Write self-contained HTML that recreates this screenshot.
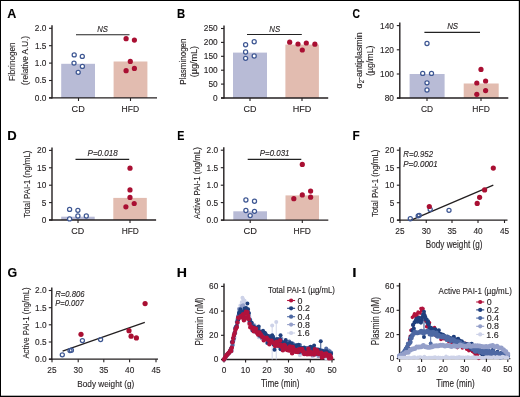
<!DOCTYPE html>
<html><head><meta charset="utf-8"><style>
html,body{margin:0;padding:0;background:#fff;}
svg{display:block;}
text{font-family:"Liberation Sans", sans-serif;}
svg{will-change:transform;}
</style></head><body>
<svg width="520" height="397" viewBox="0 0 520 397">
<rect width="520" height="397" fill="#fff"/>
<text transform="translate(7.29,17.50) scale(1.0193,1)" font-size="12.30" font-weight="bold" font-style="normal" fill="#000" stroke="#000" stroke-width="0.12">A</text>
<rect x="61.2" y="63.8" width="33.80" height="34.20" fill="#b8bbd6"/>
<rect x="113.6" y="61.5" width="33.80" height="36.50" fill="#e2bcb0"/>
<line x1="52" y1="25.3" x2="52" y2="98.5" stroke="#231f20" stroke-width="1.4" />
<line x1="49" y1="28.3" x2="52" y2="28.3" stroke="#231f20" stroke-width="1.1" />
<text transform="translate(34.87,31.21) scale(1.0000,1)" font-size="8.30" font-weight="normal" font-style="normal" fill="#231f20" stroke="#231f20" stroke-width="0.12">2.0</text>
<line x1="49" y1="45.7" x2="52" y2="45.7" stroke="#231f20" stroke-width="1.1" />
<text transform="translate(34.89,48.61) scale(1.0000,1)" font-size="8.30" font-weight="normal" font-style="normal" fill="#231f20" stroke="#231f20" stroke-width="0.12">1.5</text>
<line x1="49" y1="63.1" x2="52" y2="63.1" stroke="#231f20" stroke-width="1.1" />
<text transform="translate(34.87,66.00) scale(1.0000,1)" font-size="8.30" font-weight="normal" font-style="normal" fill="#231f20" stroke="#231f20" stroke-width="0.12">1.0</text>
<line x1="49" y1="80.5" x2="52" y2="80.5" stroke="#231f20" stroke-width="1.1" />
<text transform="translate(34.90,83.41) scale(1.0000,1)" font-size="8.30" font-weight="normal" font-style="normal" fill="#231f20" stroke="#231f20" stroke-width="0.12">0.5</text>
<line x1="49" y1="97.9" x2="52" y2="97.9" stroke="#231f20" stroke-width="1.1" />
<text transform="translate(34.87,100.81) scale(1.0000,1)" font-size="8.30" font-weight="normal" font-style="normal" fill="#231f20" stroke="#231f20" stroke-width="0.12">0.0</text>
<line x1="49" y1="97.9" x2="157" y2="97.9" stroke="#231f20" stroke-width="1.3" />
<line x1="78.5" y1="98" x2="78.5" y2="101" stroke="#231f20" stroke-width="1.1" />
<line x1="130.5" y1="98" x2="130.5" y2="101" stroke="#231f20" stroke-width="1.1" />
<circle cx="74.2" cy="54.9" r="2.05" fill="white" stroke="#3e5793" stroke-width="1.25"/>
<circle cx="82.3" cy="56.4" r="2.05" fill="white" stroke="#3e5793" stroke-width="1.25"/>
<circle cx="74" cy="63.1" r="2.05" fill="white" stroke="#3e5793" stroke-width="1.25"/>
<circle cx="82.4" cy="66.4" r="2.05" fill="white" stroke="#3e5793" stroke-width="1.25"/>
<circle cx="78.2" cy="72.3" r="2.05" fill="white" stroke="#3e5793" stroke-width="1.25"/>
<circle cx="126.1" cy="38.7" r="2.6" fill="#a90f32"/>
<circle cx="134.4" cy="40.1" r="2.6" fill="#a90f32"/>
<circle cx="130.3" cy="61.4" r="2.6" fill="#a90f32"/>
<circle cx="134.4" cy="68.4" r="2.6" fill="#a90f32"/>
<circle cx="126.1" cy="70.7" r="2.6" fill="#a90f32"/>
<line x1="76" y1="34.7" x2="129.5" y2="34.7" stroke="#222" stroke-width="1.15" />
<text transform="translate(97.27,31.50) scale(0.9299,1)" font-size="8.30" font-weight="normal" font-style="italic" fill="#231f20" stroke="#231f20" stroke-width="0.12">NS</text>
<text transform="translate(15.30,80.97) rotate(-90) scale(0.8781,1)" font-size="9.30" fill="#231f20" stroke="#231f20" stroke-width="0.12">Fibrinogen</text>
<text transform="translate(28.00,85.01) rotate(-90) scale(0.8714,1)" font-size="9.30" fill="#231f20" stroke="#231f20" stroke-width="0.12">(relative A.U.)</text>
<text transform="translate(71.54,111.80) scale(0.9922,1)" font-size="9.20" font-weight="normal" font-style="normal" fill="#231f20" stroke="#231f20" stroke-width="0.12">CD</text>
<text transform="translate(121.59,111.80) scale(0.9317,1)" font-size="9.20" font-weight="normal" font-style="normal" fill="#231f20" stroke="#231f20" stroke-width="0.12">HFD</text>
<text transform="translate(177.04,17.50) scale(0.9196,1)" font-size="12.30" font-weight="bold" font-style="normal" fill="#000" stroke="#000" stroke-width="0.12">B</text>
<rect x="233" y="52.6" width="34.00" height="45.40" fill="#b8bbd6"/>
<rect x="285.4" y="44.6" width="33.50" height="53.40" fill="#e2bcb0"/>
<line x1="224" y1="25.5" x2="224" y2="98.6" stroke="#231f20" stroke-width="1.4" />
<line x1="221" y1="28.5" x2="224" y2="28.5" stroke="#231f20" stroke-width="1.1" />
<text transform="translate(203.77,31.41) scale(1.0000,1)" font-size="8.30" font-weight="normal" font-style="normal" fill="#231f20" stroke="#231f20" stroke-width="0.12">250</text>
<line x1="221" y1="42.4" x2="224" y2="42.4" stroke="#231f20" stroke-width="1.1" />
<text transform="translate(203.77,45.30) scale(1.0000,1)" font-size="8.30" font-weight="normal" font-style="normal" fill="#231f20" stroke="#231f20" stroke-width="0.12">200</text>
<line x1="221" y1="56.3" x2="224" y2="56.3" stroke="#231f20" stroke-width="1.1" />
<text transform="translate(203.77,59.20) scale(1.0000,1)" font-size="8.30" font-weight="normal" font-style="normal" fill="#231f20" stroke="#231f20" stroke-width="0.12">150</text>
<line x1="221" y1="70.2" x2="224" y2="70.2" stroke="#231f20" stroke-width="1.1" />
<text transform="translate(203.77,73.11) scale(1.0000,1)" font-size="8.30" font-weight="normal" font-style="normal" fill="#231f20" stroke="#231f20" stroke-width="0.12">100</text>
<line x1="221" y1="84.1" x2="224" y2="84.1" stroke="#231f20" stroke-width="1.1" />
<text transform="translate(208.40,87.00) scale(1.0000,1)" font-size="8.30" font-weight="normal" font-style="normal" fill="#231f20" stroke="#231f20" stroke-width="0.12">50</text>
<line x1="221" y1="98" x2="224" y2="98" stroke="#231f20" stroke-width="1.1" />
<text transform="translate(213.00,100.91) scale(1.0000,1)" font-size="8.30" font-weight="normal" font-style="normal" fill="#231f20" stroke="#231f20" stroke-width="0.12">0</text>
<line x1="221" y1="98" x2="328.2" y2="98" stroke="#231f20" stroke-width="1.3" />
<line x1="250" y1="98" x2="250" y2="101" stroke="#231f20" stroke-width="1.1" />
<line x1="302" y1="98" x2="302" y2="101" stroke="#231f20" stroke-width="1.1" />
<circle cx="245.6" cy="44.7" r="2.05" fill="white" stroke="#3e5793" stroke-width="1.25"/>
<circle cx="254.2" cy="41.7" r="2.05" fill="white" stroke="#3e5793" stroke-width="1.25"/>
<circle cx="245.6" cy="52" r="2.05" fill="white" stroke="#3e5793" stroke-width="1.25"/>
<circle cx="254.2" cy="56" r="2.05" fill="white" stroke="#3e5793" stroke-width="1.25"/>
<circle cx="245.6" cy="58.3" r="2.05" fill="white" stroke="#3e5793" stroke-width="1.25"/>
<circle cx="289.7" cy="42.2" r="2.6" fill="#a90f32"/>
<circle cx="298" cy="44" r="2.6" fill="#a90f32"/>
<circle cx="306.3" cy="43" r="2.6" fill="#a90f32"/>
<circle cx="314.9" cy="44.2" r="2.6" fill="#a90f32"/>
<circle cx="302.3" cy="50" r="2.6" fill="#a90f32"/>
<line x1="247" y1="34.5" x2="301.8" y2="34.5" stroke="#222" stroke-width="1.15" />
<text transform="translate(269.27,31.60) scale(0.9167,1)" font-size="8.50" font-weight="normal" font-style="italic" fill="#231f20" stroke="#231f20" stroke-width="0.12">NS</text>
<text transform="translate(186.00,84.66) rotate(-90) scale(0.8587,1)" font-size="9.30" fill="#231f20" stroke="#231f20" stroke-width="0.12">Plasminogen</text>
<text transform="translate(197.00,77.16) rotate(-90) scale(0.9715,1)" font-size="9.30" fill="#231f20" stroke="#231f20" stroke-width="0.12">(µg/mL)</text>
<text transform="translate(243.45,111.80) scale(0.9760,1)" font-size="9.20" font-weight="normal" font-style="normal" fill="#231f20" stroke="#231f20" stroke-width="0.12">CD</text>
<text transform="translate(292.75,111.80) scale(0.9881,1)" font-size="9.20" font-weight="normal" font-style="normal" fill="#231f20" stroke="#231f20" stroke-width="0.12">HFD</text>
<text transform="translate(352.48,17.50) scale(0.8440,1)" font-size="12.30" font-weight="bold" font-style="normal" fill="#000" stroke="#000" stroke-width="0.12">C</text>
<rect x="409.6" y="74" width="35.00" height="24.00" fill="#b8bbd6"/>
<rect x="463.7" y="83.5" width="35.00" height="14.50" fill="#e2bcb0"/>
<line x1="399.8" y1="22.6" x2="399.8" y2="98.6" stroke="#231f20" stroke-width="1.4" />
<line x1="396.8" y1="25.6" x2="399.8" y2="25.6" stroke="#231f20" stroke-width="1.1" />
<text transform="translate(380.07,28.51) scale(1.0000,1)" font-size="8.30" font-weight="normal" font-style="normal" fill="#231f20" stroke="#231f20" stroke-width="0.12">140</text>
<line x1="396.8" y1="49.8" x2="399.8" y2="49.8" stroke="#231f20" stroke-width="1.1" />
<text transform="translate(380.07,52.70) scale(1.0000,1)" font-size="8.30" font-weight="normal" font-style="normal" fill="#231f20" stroke="#231f20" stroke-width="0.12">120</text>
<line x1="396.8" y1="74" x2="399.8" y2="74" stroke="#231f20" stroke-width="1.1" />
<text transform="translate(380.07,76.91) scale(1.0000,1)" font-size="8.30" font-weight="normal" font-style="normal" fill="#231f20" stroke="#231f20" stroke-width="0.12">100</text>
<line x1="396.8" y1="98.2" x2="399.8" y2="98.2" stroke="#231f20" stroke-width="1.1" />
<text transform="translate(384.70,101.11) scale(1.0000,1)" font-size="8.30" font-weight="normal" font-style="normal" fill="#231f20" stroke="#231f20" stroke-width="0.12">80</text>
<line x1="397" y1="98" x2="508.3" y2="98" stroke="#231f20" stroke-width="1.3" />
<line x1="427" y1="98" x2="427" y2="101" stroke="#231f20" stroke-width="1.1" />
<line x1="481" y1="98" x2="481" y2="101" stroke="#231f20" stroke-width="1.1" />
<circle cx="427" cy="43.5" r="2.05" fill="white" stroke="#3e5793" stroke-width="1.25"/>
<circle cx="422.7" cy="73.4" r="2.05" fill="white" stroke="#3e5793" stroke-width="1.25"/>
<circle cx="431.5" cy="73.4" r="2.05" fill="white" stroke="#3e5793" stroke-width="1.25"/>
<circle cx="427" cy="82.8" r="2.05" fill="white" stroke="#3e5793" stroke-width="1.25"/>
<circle cx="427" cy="90" r="2.05" fill="white" stroke="#3e5793" stroke-width="1.25"/>
<circle cx="481" cy="69.4" r="2.6" fill="#a90f32"/>
<circle cx="476.8" cy="83" r="2.6" fill="#a90f32"/>
<circle cx="485.6" cy="81" r="2.6" fill="#a90f32"/>
<circle cx="485.6" cy="90.6" r="2.6" fill="#a90f32"/>
<circle cx="476.8" cy="94.3" r="2.6" fill="#a90f32"/>
<line x1="424.4" y1="32.3" x2="480" y2="32.3" stroke="#222" stroke-width="1.15" />
<text transform="translate(447.16,29.30) scale(0.9255,1)" font-size="8.50" font-weight="normal" font-style="italic" fill="#231f20" stroke="#231f20" stroke-width="0.12">NS</text>
<text transform="translate(361.80,88.38) rotate(-90) scale(0.9497,1)" font-size="9.30" fill="#231f20" stroke="#231f20" stroke-width="0.12">α<tspan font-size="6.32" dy="2">2</tspan><tspan dy="-2">-antiplasmin</tspan></text>
<text transform="translate(373.30,76.05) rotate(-90) scale(0.9490,1)" font-size="9.30" fill="#231f20" stroke="#231f20" stroke-width="0.12">(µg/mL)</text>
<text transform="translate(420.98,111.80) scale(0.9115,1)" font-size="9.20" font-weight="normal" font-style="normal" fill="#231f20" stroke="#231f20" stroke-width="0.12">CD</text>
<text transform="translate(472.30,111.80) scale(0.9260,1)" font-size="9.20" font-weight="normal" font-style="normal" fill="#231f20" stroke="#231f20" stroke-width="0.12">HFD</text>
<text transform="translate(7.22,139.90) scale(1.0619,1)" font-size="12.30" font-weight="bold" font-style="normal" fill="#000" stroke="#000" stroke-width="0.12">D</text>
<rect x="61.2" y="216.7" width="33.50" height="3.30" fill="#b8bbd6"/>
<rect x="113.3" y="197.9" width="33.50" height="22.10" fill="#e2bcb0"/>
<line x1="52" y1="147.4" x2="52" y2="220.6" stroke="#231f20" stroke-width="1.4" />
<line x1="49" y1="150.4" x2="52" y2="150.4" stroke="#231f20" stroke-width="1.1" />
<text transform="translate(37.10,153.31) scale(1.0000,1)" font-size="8.30" font-weight="normal" font-style="normal" fill="#231f20" stroke="#231f20" stroke-width="0.12">20</text>
<line x1="49" y1="167.8" x2="52" y2="167.8" stroke="#231f20" stroke-width="1.1" />
<text transform="translate(37.12,170.71) scale(1.0000,1)" font-size="8.30" font-weight="normal" font-style="normal" fill="#231f20" stroke="#231f20" stroke-width="0.12">15</text>
<line x1="49" y1="185.2" x2="52" y2="185.2" stroke="#231f20" stroke-width="1.1" />
<text transform="translate(37.10,188.10) scale(1.0000,1)" font-size="8.30" font-weight="normal" font-style="normal" fill="#231f20" stroke="#231f20" stroke-width="0.12">10</text>
<line x1="49" y1="202.6" x2="52" y2="202.6" stroke="#231f20" stroke-width="1.1" />
<text transform="translate(41.73,205.50) scale(1.0000,1)" font-size="8.30" font-weight="normal" font-style="normal" fill="#231f20" stroke="#231f20" stroke-width="0.12">5</text>
<line x1="49" y1="220" x2="52" y2="220" stroke="#231f20" stroke-width="1.1" />
<text transform="translate(41.70,222.91) scale(1.0000,1)" font-size="8.30" font-weight="normal" font-style="normal" fill="#231f20" stroke="#231f20" stroke-width="0.12">0</text>
<line x1="49" y1="220" x2="156.1" y2="220" stroke="#231f20" stroke-width="1.3" />
<line x1="78" y1="220" x2="78" y2="223" stroke="#231f20" stroke-width="1.1" />
<line x1="130" y1="220" x2="130" y2="223" stroke="#231f20" stroke-width="1.1" />
<circle cx="69.6" cy="209.4" r="2.05" fill="white" stroke="#3e5793" stroke-width="1.25"/>
<circle cx="77.9" cy="210.3" r="2.05" fill="white" stroke="#3e5793" stroke-width="1.25"/>
<circle cx="69.6" cy="218.9" r="2.05" fill="white" stroke="#3e5793" stroke-width="1.25"/>
<circle cx="77.9" cy="216" r="2.05" fill="white" stroke="#3e5793" stroke-width="1.25"/>
<circle cx="86.3" cy="216" r="2.05" fill="white" stroke="#3e5793" stroke-width="1.25"/>
<circle cx="130" cy="168.2" r="2.6" fill="#a90f32"/>
<circle cx="130" cy="189.9" r="2.6" fill="#a90f32"/>
<circle cx="130" cy="197.4" r="2.6" fill="#a90f32"/>
<circle cx="125.9" cy="206.8" r="2.6" fill="#a90f32"/>
<circle cx="134.2" cy="203.5" r="2.6" fill="#a90f32"/>
<line x1="75.5" y1="159.3" x2="129.2" y2="159.3" stroke="#222" stroke-width="1.15" />
<text transform="translate(87.56,156.30) scale(0.9140,1)" font-size="8.80" font-weight="normal" font-style="italic" fill="#231f20" stroke="#231f20" stroke-width="0.12">P=0.018</text>
<text transform="translate(30.10,217.68) rotate(-90) scale(0.8190,1)" font-size="9.60" fill="#231f20" stroke="#231f20" stroke-width="0.12">Total PAI-1 (ng/mL)</text>
<text transform="translate(71.35,233.70) scale(0.9760,1)" font-size="9.20" font-weight="normal" font-style="normal" fill="#231f20" stroke="#231f20" stroke-width="0.12">CD</text>
<text transform="translate(121.71,233.70) scale(0.9091,1)" font-size="9.20" font-weight="normal" font-style="normal" fill="#231f20" stroke="#231f20" stroke-width="0.12">HFD</text>
<text transform="translate(177.18,139.90) scale(0.8711,1)" font-size="12.30" font-weight="bold" font-style="normal" fill="#000" stroke="#000" stroke-width="0.12">E</text>
<rect x="233.3" y="211.3" width="33.70" height="8.70" fill="#b8bbd6"/>
<rect x="285.5" y="195.4" width="33.50" height="24.60" fill="#e2bcb0"/>
<line x1="223.8" y1="147.2" x2="223.8" y2="220.6" stroke="#231f20" stroke-width="1.4" />
<line x1="220.8" y1="150.2" x2="223.8" y2="150.2" stroke="#231f20" stroke-width="1.1" />
<text transform="translate(206.57,153.10) scale(1.0000,1)" font-size="8.30" font-weight="normal" font-style="normal" fill="#231f20" stroke="#231f20" stroke-width="0.12">2.0</text>
<line x1="220.8" y1="167.7" x2="223.8" y2="167.7" stroke="#231f20" stroke-width="1.1" />
<text transform="translate(206.59,170.60) scale(1.0000,1)" font-size="8.30" font-weight="normal" font-style="normal" fill="#231f20" stroke="#231f20" stroke-width="0.12">1.5</text>
<line x1="220.8" y1="185.2" x2="223.8" y2="185.2" stroke="#231f20" stroke-width="1.1" />
<text transform="translate(206.57,188.10) scale(1.0000,1)" font-size="8.30" font-weight="normal" font-style="normal" fill="#231f20" stroke="#231f20" stroke-width="0.12">1.0</text>
<line x1="220.8" y1="202.6" x2="223.8" y2="202.6" stroke="#231f20" stroke-width="1.1" />
<text transform="translate(206.60,205.50) scale(1.0000,1)" font-size="8.30" font-weight="normal" font-style="normal" fill="#231f20" stroke="#231f20" stroke-width="0.12">0.5</text>
<line x1="220.8" y1="220.1" x2="223.8" y2="220.1" stroke="#231f20" stroke-width="1.1" />
<text transform="translate(206.57,223.00) scale(1.0000,1)" font-size="8.30" font-weight="normal" font-style="normal" fill="#231f20" stroke="#231f20" stroke-width="0.12">0.0</text>
<line x1="221" y1="220.1" x2="328.3" y2="220.1" stroke="#231f20" stroke-width="1.3" />
<line x1="250.2" y1="220" x2="250.2" y2="223" stroke="#231f20" stroke-width="1.1" />
<line x1="302.3" y1="220" x2="302.3" y2="223" stroke="#231f20" stroke-width="1.1" />
<circle cx="245.9" cy="200" r="2.05" fill="white" stroke="#3e5793" stroke-width="1.25"/>
<circle cx="254.5" cy="201.2" r="2.05" fill="white" stroke="#3e5793" stroke-width="1.25"/>
<circle cx="245.9" cy="210.5" r="2.05" fill="white" stroke="#3e5793" stroke-width="1.25"/>
<circle cx="254.5" cy="211.3" r="2.05" fill="white" stroke="#3e5793" stroke-width="1.25"/>
<circle cx="250.2" cy="215.6" r="2.05" fill="white" stroke="#3e5793" stroke-width="1.25"/>
<circle cx="302.3" cy="164.4" r="2.6" fill="#a90f32"/>
<circle cx="310.6" cy="191.1" r="2.6" fill="#a90f32"/>
<circle cx="302.3" cy="194.9" r="2.6" fill="#a90f32"/>
<circle cx="293.8" cy="198.7" r="2.6" fill="#a90f32"/>
<circle cx="310.6" cy="197.2" r="2.6" fill="#a90f32"/>
<line x1="247.7" y1="159.3" x2="301.3" y2="159.3" stroke="#222" stroke-width="1.15" />
<text transform="translate(259.76,156.30) scale(0.8991,1)" font-size="8.80" font-weight="normal" font-style="italic" fill="#231f20" stroke="#231f20" stroke-width="0.12">P=0.031</text>
<text transform="translate(199.80,219.12) rotate(-90) scale(0.8207,1)" font-size="9.60" fill="#231f20" stroke="#231f20" stroke-width="0.12">Active PAI-1 (ng/mL)</text>
<text transform="translate(243.43,233.70) scale(1.0164,1)" font-size="9.20" font-weight="normal" font-style="normal" fill="#231f20" stroke="#231f20" stroke-width="0.12">CD</text>
<text transform="translate(293.60,233.70) scale(0.9204,1)" font-size="9.20" font-weight="normal" font-style="normal" fill="#231f20" stroke="#231f20" stroke-width="0.12">HFD</text>
<text transform="translate(352.50,139.90) scale(0.9612,1)" font-size="12.30" font-weight="bold" font-style="normal" fill="#000" stroke="#000" stroke-width="0.12">F</text>
<line x1="399.85" y1="147.2" x2="399.85" y2="220.6" stroke="#231f20" stroke-width="1.4" />
<line x1="396.85" y1="150.2" x2="399.85" y2="150.2" stroke="#231f20" stroke-width="1.1" />
<text transform="translate(385.10,153.10) scale(1.0000,1)" font-size="8.30" font-weight="normal" font-style="normal" fill="#231f20" stroke="#231f20" stroke-width="0.12">20</text>
<line x1="396.85" y1="167.7" x2="399.85" y2="167.7" stroke="#231f20" stroke-width="1.1" />
<text transform="translate(385.12,170.60) scale(1.0000,1)" font-size="8.30" font-weight="normal" font-style="normal" fill="#231f20" stroke="#231f20" stroke-width="0.12">15</text>
<line x1="396.85" y1="185.2" x2="399.85" y2="185.2" stroke="#231f20" stroke-width="1.1" />
<text transform="translate(385.10,188.10) scale(1.0000,1)" font-size="8.30" font-weight="normal" font-style="normal" fill="#231f20" stroke="#231f20" stroke-width="0.12">10</text>
<line x1="396.85" y1="202.7" x2="399.85" y2="202.7" stroke="#231f20" stroke-width="1.1" />
<text transform="translate(389.73,205.60) scale(1.0000,1)" font-size="8.30" font-weight="normal" font-style="normal" fill="#231f20" stroke="#231f20" stroke-width="0.12">5</text>
<line x1="396.85" y1="220.2" x2="399.85" y2="220.2" stroke="#231f20" stroke-width="1.1" />
<text transform="translate(389.70,223.10) scale(1.0000,1)" font-size="8.30" font-weight="normal" font-style="normal" fill="#231f20" stroke="#231f20" stroke-width="0.12">0</text>
<line x1="397" y1="220.2" x2="507.5" y2="220.2" stroke="#231f20" stroke-width="1.3" />
<line x1="400" y1="220" x2="400" y2="223" stroke="#231f20" stroke-width="1.1" />
<text transform="translate(395.35,234.21) scale(1.0000,1)" font-size="8.30" font-weight="normal" font-style="normal" fill="#231f20" stroke="#231f20" stroke-width="0.12">25</text>
<line x1="426.25" y1="220" x2="426.25" y2="223" stroke="#231f20" stroke-width="1.1" />
<text transform="translate(421.64,234.21) scale(1.0000,1)" font-size="8.30" font-weight="normal" font-style="normal" fill="#231f20" stroke="#231f20" stroke-width="0.12">30</text>
<line x1="452" y1="220" x2="452" y2="223" stroke="#231f20" stroke-width="1.1" />
<text transform="translate(447.40,234.21) scale(1.0000,1)" font-size="8.30" font-weight="normal" font-style="normal" fill="#231f20" stroke="#231f20" stroke-width="0.12">35</text>
<line x1="478" y1="220" x2="478" y2="223" stroke="#231f20" stroke-width="1.1" />
<text transform="translate(473.46,234.21) scale(1.0000,1)" font-size="8.30" font-weight="normal" font-style="normal" fill="#231f20" stroke="#231f20" stroke-width="0.12">40</text>
<line x1="504.5" y1="220" x2="504.5" y2="223" stroke="#231f20" stroke-width="1.1" />
<text transform="translate(499.97,234.21) scale(1.0000,1)" font-size="8.30" font-weight="normal" font-style="normal" fill="#231f20" stroke="#231f20" stroke-width="0.12">45</text>
<text transform="translate(403.26,156.90) scale(0.9111,1)" font-size="8.60" font-weight="normal" font-style="italic" fill="#231f20" stroke="#231f20" stroke-width="0.12">R=0.952</text>
<text transform="translate(403.26,166.90) scale(0.9313,1)" font-size="8.60" font-weight="normal" font-style="italic" fill="#231f20" stroke="#231f20" stroke-width="0.12">P=0.0001</text>
<line x1="411.2" y1="220.2" x2="493.3" y2="185.2" stroke="#231f20" stroke-width="1.3" />
<circle cx="410.3" cy="218.7" r="2.05" fill="none" stroke="#3e5793" stroke-width="1.25"/>
<circle cx="418.2" cy="215.8" r="2.05" fill="none" stroke="#3e5793" stroke-width="1.25"/>
<circle cx="419.2" cy="215.3" r="2.05" fill="none" stroke="#3e5793" stroke-width="1.25"/>
<circle cx="430.2" cy="209.4" r="2.05" fill="none" stroke="#3e5793" stroke-width="1.25"/>
<circle cx="449" cy="210.3" r="2.05" fill="none" stroke="#3e5793" stroke-width="1.25"/>
<circle cx="429.3" cy="206.5" r="2.6" fill="#a90f32"/>
<circle cx="477.2" cy="203.4" r="2.6" fill="#a90f32"/>
<circle cx="479.6" cy="197.3" r="2.6" fill="#a90f32"/>
<circle cx="484.6" cy="189.9" r="2.6" fill="#a90f32"/>
<circle cx="493.3" cy="168.1" r="2.6" fill="#a90f32"/>
<text transform="translate(425.83,247.60) scale(0.8156,1)" font-size="10.00" font-weight="normal" font-style="normal" fill="#231f20" stroke="#231f20" stroke-width="0.12">Body weight (g)</text>
<text transform="translate(378.00,216.98) rotate(-90) scale(0.8227,1)" font-size="9.60" fill="#231f20" stroke="#231f20" stroke-width="0.12">Total PAI-1 (ng/mL)</text>
<text transform="translate(7.40,276.80) scale(1.0117,1)" font-size="12.30" font-weight="bold" font-style="normal" fill="#000" stroke="#000" stroke-width="0.12">G</text>
<line x1="51.8" y1="287.5" x2="51.8" y2="359.8" stroke="#231f20" stroke-width="1.4" />
<line x1="48.8" y1="290.5" x2="51.8" y2="290.5" stroke="#231f20" stroke-width="1.1" />
<text transform="translate(35.07,293.40) scale(1.0000,1)" font-size="8.30" font-weight="normal" font-style="normal" fill="#231f20" stroke="#231f20" stroke-width="0.12">2.0</text>
<line x1="48.8" y1="307.7" x2="51.8" y2="307.7" stroke="#231f20" stroke-width="1.1" />
<text transform="translate(35.09,310.60) scale(1.0000,1)" font-size="8.30" font-weight="normal" font-style="normal" fill="#231f20" stroke="#231f20" stroke-width="0.12">1.5</text>
<line x1="48.8" y1="324.8" x2="51.8" y2="324.8" stroke="#231f20" stroke-width="1.1" />
<text transform="translate(35.07,327.70) scale(1.0000,1)" font-size="8.30" font-weight="normal" font-style="normal" fill="#231f20" stroke="#231f20" stroke-width="0.12">1.0</text>
<line x1="48.8" y1="342" x2="51.8" y2="342" stroke="#231f20" stroke-width="1.1" />
<text transform="translate(35.09,344.90) scale(1.0000,1)" font-size="8.30" font-weight="normal" font-style="normal" fill="#231f20" stroke="#231f20" stroke-width="0.12">0.5</text>
<line x1="48.8" y1="359.2" x2="51.8" y2="359.2" stroke="#231f20" stroke-width="1.1" />
<text transform="translate(35.07,362.10) scale(1.0000,1)" font-size="8.30" font-weight="normal" font-style="normal" fill="#231f20" stroke="#231f20" stroke-width="0.12">0.0</text>
<line x1="49" y1="359.2" x2="158" y2="359.2" stroke="#231f20" stroke-width="1.3" />
<line x1="52" y1="359.2" x2="52" y2="362.2" stroke="#231f20" stroke-width="1.1" />
<text transform="translate(47.35,373.40) scale(1.0000,1)" font-size="8.30" font-weight="normal" font-style="normal" fill="#231f20" stroke="#231f20" stroke-width="0.12">25</text>
<line x1="78.2" y1="359.2" x2="78.2" y2="362.2" stroke="#231f20" stroke-width="1.1" />
<text transform="translate(73.59,373.40) scale(1.0000,1)" font-size="8.30" font-weight="normal" font-style="normal" fill="#231f20" stroke="#231f20" stroke-width="0.12">30</text>
<line x1="103.8" y1="359.2" x2="103.8" y2="362.2" stroke="#231f20" stroke-width="1.1" />
<text transform="translate(99.20,373.40) scale(1.0000,1)" font-size="8.30" font-weight="normal" font-style="normal" fill="#231f20" stroke="#231f20" stroke-width="0.12">35</text>
<line x1="129.6" y1="359.2" x2="129.6" y2="362.2" stroke="#231f20" stroke-width="1.1" />
<text transform="translate(125.06,373.40) scale(1.0000,1)" font-size="8.30" font-weight="normal" font-style="normal" fill="#231f20" stroke="#231f20" stroke-width="0.12">40</text>
<line x1="156" y1="359.2" x2="156" y2="362.2" stroke="#231f20" stroke-width="1.1" />
<text transform="translate(151.47,373.40) scale(1.0000,1)" font-size="8.30" font-weight="normal" font-style="normal" fill="#231f20" stroke="#231f20" stroke-width="0.12">45</text>
<text transform="translate(55.17,296.90) scale(0.8988,1)" font-size="8.60" font-weight="normal" font-style="italic" fill="#231f20" stroke="#231f20" stroke-width="0.12">R=0.806</text>
<text transform="translate(55.17,306.20) scale(0.8825,1)" font-size="8.60" font-weight="normal" font-style="italic" fill="#231f20" stroke="#231f20" stroke-width="0.12">P=0.007</text>
<line x1="62.6" y1="351.2" x2="144.8" y2="322.4" stroke="#231f20" stroke-width="1.3" />
<circle cx="62.3" cy="354.8" r="2.05" fill="none" stroke="#3e5793" stroke-width="1.25"/>
<circle cx="70" cy="350.6" r="2.05" fill="none" stroke="#3e5793" stroke-width="1.25"/>
<circle cx="71.4" cy="350.2" r="2.05" fill="none" stroke="#3e5793" stroke-width="1.25"/>
<circle cx="82.4" cy="340.6" r="2.05" fill="none" stroke="#3e5793" stroke-width="1.25"/>
<circle cx="100.6" cy="339.6" r="2.05" fill="none" stroke="#3e5793" stroke-width="1.25"/>
<circle cx="81" cy="334.3" r="2.6" fill="#a90f32"/>
<circle cx="129" cy="330.7" r="2.6" fill="#a90f32"/>
<circle cx="131.1" cy="336.2" r="2.6" fill="#a90f32"/>
<circle cx="136.4" cy="337.9" r="2.6" fill="#a90f32"/>
<circle cx="145.1" cy="303.6" r="2.6" fill="#a90f32"/>
<text transform="translate(77.32,387.00) scale(0.8229,1)" font-size="10.00" font-weight="normal" font-style="normal" fill="#231f20" stroke="#231f20" stroke-width="0.12">Body weight (g)</text>
<text transform="translate(28.60,358.62) rotate(-90) scale(0.8127,1)" font-size="9.60" fill="#231f20" stroke="#231f20" stroke-width="0.12">Active PAI-1 (ng/mL)</text>
<text transform="translate(176.85,276.80) scale(1.1486,1)" font-size="12.30" font-weight="bold" font-style="normal" fill="#000" stroke="#000" stroke-width="0.12">H</text>
<line x1="224" y1="283.4" x2="224" y2="360.1" stroke="#231f20" stroke-width="1.4" />
<line x1="221" y1="286.4" x2="224" y2="286.4" stroke="#231f20" stroke-width="1.1" />
<text transform="translate(209.10,289.30) scale(1.0000,1)" font-size="8.30" font-weight="normal" font-style="normal" fill="#231f20" stroke="#231f20" stroke-width="0.12">60</text>
<line x1="221" y1="311.1" x2="224" y2="311.1" stroke="#231f20" stroke-width="1.1" />
<text transform="translate(209.10,314.00) scale(1.0000,1)" font-size="8.30" font-weight="normal" font-style="normal" fill="#231f20" stroke="#231f20" stroke-width="0.12">40</text>
<line x1="221" y1="335.3" x2="224" y2="335.3" stroke="#231f20" stroke-width="1.1" />
<text transform="translate(209.10,338.20) scale(1.0000,1)" font-size="8.30" font-weight="normal" font-style="normal" fill="#231f20" stroke="#231f20" stroke-width="0.12">20</text>
<line x1="221" y1="359.5" x2="224" y2="359.5" stroke="#231f20" stroke-width="1.1" />
<text transform="translate(213.70,362.40) scale(1.0000,1)" font-size="8.30" font-weight="normal" font-style="normal" fill="#231f20" stroke="#231f20" stroke-width="0.12">0</text>
<line x1="221" y1="359.5" x2="334.6" y2="359.5" stroke="#231f20" stroke-width="1.3" />
<line x1="224" y1="359.5" x2="224" y2="362.5" stroke="#231f20" stroke-width="1.1" />
<text transform="translate(221.69,372.70) scale(1.0000,1)" font-size="8.30" font-weight="normal" font-style="normal" fill="#231f20" stroke="#231f20" stroke-width="0.12">0</text>
<line x1="245.6" y1="359.5" x2="245.6" y2="362.5" stroke="#231f20" stroke-width="1.1" />
<text transform="translate(240.84,372.70) scale(1.0000,1)" font-size="8.30" font-weight="normal" font-style="normal" fill="#231f20" stroke="#231f20" stroke-width="0.12">10</text>
<line x1="267" y1="359.5" x2="267" y2="362.5" stroke="#231f20" stroke-width="1.1" />
<text transform="translate(262.34,372.70) scale(1.0000,1)" font-size="8.30" font-weight="normal" font-style="normal" fill="#231f20" stroke="#231f20" stroke-width="0.12">20</text>
<line x1="288.5" y1="359.5" x2="288.5" y2="362.5" stroke="#231f20" stroke-width="1.1" />
<text transform="translate(283.89,372.70) scale(1.0000,1)" font-size="8.30" font-weight="normal" font-style="normal" fill="#231f20" stroke="#231f20" stroke-width="0.12">30</text>
<line x1="310.3" y1="359.5" x2="310.3" y2="362.5" stroke="#231f20" stroke-width="1.1" />
<text transform="translate(305.76,372.70) scale(1.0000,1)" font-size="8.30" font-weight="normal" font-style="normal" fill="#231f20" stroke="#231f20" stroke-width="0.12">40</text>
<line x1="332" y1="359.5" x2="332" y2="362.5" stroke="#231f20" stroke-width="1.1" />
<text transform="translate(327.38,372.70) scale(1.0000,1)" font-size="8.30" font-weight="normal" font-style="normal" fill="#231f20" stroke="#231f20" stroke-width="0.12">50</text>
<line x1="272.15999999999997" y1="325.62" x2="272.15999999999997" y2="359.5" stroke="#cdd2e8" stroke-width="0.9" />
<line x1="276.245" y1="321.99" x2="276.245" y2="359.5" stroke="#cdd2e8" stroke-width="0.9" />
<path d="M222.00,359.50a2.0,2.0 0 1,0 4.0,0a2.0,2.0 0 1,0 -4.0,0 M222.71,358.27a2.0,2.0 0 1,0 4.0,0a2.0,2.0 0 1,0 -4.0,0 M223.42,357.04a2.0,2.0 0 1,0 4.0,0a2.0,2.0 0 1,0 -4.0,0 M224.13,355.81a2.0,2.0 0 1,0 4.0,0a2.0,2.0 0 1,0 -4.0,0 M224.84,354.94a2.0,2.0 0 1,0 4.0,0a2.0,2.0 0 1,0 -4.0,0 M225.55,354.18a2.0,2.0 0 1,0 4.0,0a2.0,2.0 0 1,0 -4.0,0 M226.26,353.43a2.0,2.0 0 1,0 4.0,0a2.0,2.0 0 1,0 -4.0,0 M226.97,352.67a2.0,2.0 0 1,0 4.0,0a2.0,2.0 0 1,0 -4.0,0 M227.68,351.75a2.0,2.0 0 1,0 4.0,0a2.0,2.0 0 1,0 -4.0,0 M228.39,350.59a2.0,2.0 0 1,0 4.0,0a2.0,2.0 0 1,0 -4.0,0 M229.09,351.42a2.0,2.0 0 1,0 4.0,0a2.0,2.0 0 1,0 -4.0,0 M229.80,349.98a2.0,2.0 0 1,0 4.0,0a2.0,2.0 0 1,0 -4.0,0 M230.51,343.25a2.0,2.0 0 1,0 4.0,0a2.0,2.0 0 1,0 -4.0,0 M231.22,344.62a2.0,2.0 0 1,0 4.0,0a2.0,2.0 0 1,0 -4.0,0 M231.93,337.27a2.0,2.0 0 1,0 4.0,0a2.0,2.0 0 1,0 -4.0,0 M232.64,337.14a2.0,2.0 0 1,0 4.0,0a2.0,2.0 0 1,0 -4.0,0 M233.35,328.40a2.0,2.0 0 1,0 4.0,0a2.0,2.0 0 1,0 -4.0,0 M234.06,326.97a2.0,2.0 0 1,0 4.0,0a2.0,2.0 0 1,0 -4.0,0 M234.77,321.87a2.0,2.0 0 1,0 4.0,0a2.0,2.0 0 1,0 -4.0,0 M235.48,321.60a2.0,2.0 0 1,0 4.0,0a2.0,2.0 0 1,0 -4.0,0 M236.19,315.75a2.0,2.0 0 1,0 4.0,0a2.0,2.0 0 1,0 -4.0,0 M236.90,310.52a2.0,2.0 0 1,0 4.0,0a2.0,2.0 0 1,0 -4.0,0 M237.61,308.67a2.0,2.0 0 1,0 4.0,0a2.0,2.0 0 1,0 -4.0,0 M238.32,305.58a2.0,2.0 0 1,0 4.0,0a2.0,2.0 0 1,0 -4.0,0 M239.03,306.36a2.0,2.0 0 1,0 4.0,0a2.0,2.0 0 1,0 -4.0,0 M239.74,302.28a2.0,2.0 0 1,0 4.0,0a2.0,2.0 0 1,0 -4.0,0 M240.45,297.65a2.0,2.0 0 1,0 4.0,0a2.0,2.0 0 1,0 -4.0,0 M241.16,299.28a2.0,2.0 0 1,0 4.0,0a2.0,2.0 0 1,0 -4.0,0 M241.87,302.57a2.0,2.0 0 1,0 4.0,0a2.0,2.0 0 1,0 -4.0,0 M242.58,300.64a2.0,2.0 0 1,0 4.0,0a2.0,2.0 0 1,0 -4.0,0 M243.28,306.65a2.0,2.0 0 1,0 4.0,0a2.0,2.0 0 1,0 -4.0,0 M243.99,310.13a2.0,2.0 0 1,0 4.0,0a2.0,2.0 0 1,0 -4.0,0 M244.70,311.27a2.0,2.0 0 1,0 4.0,0a2.0,2.0 0 1,0 -4.0,0 M245.41,314.82a2.0,2.0 0 1,0 4.0,0a2.0,2.0 0 1,0 -4.0,0 M246.12,316.98a2.0,2.0 0 1,0 4.0,0a2.0,2.0 0 1,0 -4.0,0 M246.83,319.24a2.0,2.0 0 1,0 4.0,0a2.0,2.0 0 1,0 -4.0,0 M247.54,317.07a2.0,2.0 0 1,0 4.0,0a2.0,2.0 0 1,0 -4.0,0 M248.25,322.33a2.0,2.0 0 1,0 4.0,0a2.0,2.0 0 1,0 -4.0,0 M248.96,323.94a2.0,2.0 0 1,0 4.0,0a2.0,2.0 0 1,0 -4.0,0 M249.67,324.95a2.0,2.0 0 1,0 4.0,0a2.0,2.0 0 1,0 -4.0,0 M250.38,323.82a2.0,2.0 0 1,0 4.0,0a2.0,2.0 0 1,0 -4.0,0 M251.09,328.28a2.0,2.0 0 1,0 4.0,0a2.0,2.0 0 1,0 -4.0,0 M251.80,329.62a2.0,2.0 0 1,0 4.0,0a2.0,2.0 0 1,0 -4.0,0 M252.51,325.04a2.0,2.0 0 1,0 4.0,0a2.0,2.0 0 1,0 -4.0,0 M253.22,332.37a2.0,2.0 0 1,0 4.0,0a2.0,2.0 0 1,0 -4.0,0 M253.93,331.18a2.0,2.0 0 1,0 4.0,0a2.0,2.0 0 1,0 -4.0,0 M254.64,330.10a2.0,2.0 0 1,0 4.0,0a2.0,2.0 0 1,0 -4.0,0 M255.35,328.02a2.0,2.0 0 1,0 4.0,0a2.0,2.0 0 1,0 -4.0,0 M256.06,334.17a2.0,2.0 0 1,0 4.0,0a2.0,2.0 0 1,0 -4.0,0 M256.77,337.23a2.0,2.0 0 1,0 4.0,0a2.0,2.0 0 1,0 -4.0,0 M257.48,332.47a2.0,2.0 0 1,0 4.0,0a2.0,2.0 0 1,0 -4.0,0 M258.18,334.94a2.0,2.0 0 1,0 4.0,0a2.0,2.0 0 1,0 -4.0,0 M258.89,335.17a2.0,2.0 0 1,0 4.0,0a2.0,2.0 0 1,0 -4.0,0 M259.60,334.20a2.0,2.0 0 1,0 4.0,0a2.0,2.0 0 1,0 -4.0,0 M260.31,335.07a2.0,2.0 0 1,0 4.0,0a2.0,2.0 0 1,0 -4.0,0 M261.02,335.42a2.0,2.0 0 1,0 4.0,0a2.0,2.0 0 1,0 -4.0,0 M261.73,337.11a2.0,2.0 0 1,0 4.0,0a2.0,2.0 0 1,0 -4.0,0 M262.44,334.66a2.0,2.0 0 1,0 4.0,0a2.0,2.0 0 1,0 -4.0,0 M263.15,334.76a2.0,2.0 0 1,0 4.0,0a2.0,2.0 0 1,0 -4.0,0 M263.86,337.72a2.0,2.0 0 1,0 4.0,0a2.0,2.0 0 1,0 -4.0,0 M264.57,339.01a2.0,2.0 0 1,0 4.0,0a2.0,2.0 0 1,0 -4.0,0 M265.28,337.47a2.0,2.0 0 1,0 4.0,0a2.0,2.0 0 1,0 -4.0,0 M265.99,338.37a2.0,2.0 0 1,0 4.0,0a2.0,2.0 0 1,0 -4.0,0 M266.70,341.40a2.0,2.0 0 1,0 4.0,0a2.0,2.0 0 1,0 -4.0,0 M267.41,340.89a2.0,2.0 0 1,0 4.0,0a2.0,2.0 0 1,0 -4.0,0 M268.12,338.80a2.0,2.0 0 1,0 4.0,0a2.0,2.0 0 1,0 -4.0,0 M268.83,341.20a2.0,2.0 0 1,0 4.0,0a2.0,2.0 0 1,0 -4.0,0 M269.54,341.99a2.0,2.0 0 1,0 4.0,0a2.0,2.0 0 1,0 -4.0,0 M270.25,341.32a2.0,2.0 0 1,0 4.0,0a2.0,2.0 0 1,0 -4.0,0 M270.96,341.99a2.0,2.0 0 1,0 4.0,0a2.0,2.0 0 1,0 -4.0,0 M271.66,342.19a2.0,2.0 0 1,0 4.0,0a2.0,2.0 0 1,0 -4.0,0 M272.37,345.70a2.0,2.0 0 1,0 4.0,0a2.0,2.0 0 1,0 -4.0,0 M273.08,339.72a2.0,2.0 0 1,0 4.0,0a2.0,2.0 0 1,0 -4.0,0 M273.79,342.59a2.0,2.0 0 1,0 4.0,0a2.0,2.0 0 1,0 -4.0,0 M274.50,344.67a2.0,2.0 0 1,0 4.0,0a2.0,2.0 0 1,0 -4.0,0 M275.21,341.77a2.0,2.0 0 1,0 4.0,0a2.0,2.0 0 1,0 -4.0,0 M275.92,343.16a2.0,2.0 0 1,0 4.0,0a2.0,2.0 0 1,0 -4.0,0 M276.63,343.90a2.0,2.0 0 1,0 4.0,0a2.0,2.0 0 1,0 -4.0,0 M277.34,342.40a2.0,2.0 0 1,0 4.0,0a2.0,2.0 0 1,0 -4.0,0 M278.05,340.60a2.0,2.0 0 1,0 4.0,0a2.0,2.0 0 1,0 -4.0,0 M278.76,343.74a2.0,2.0 0 1,0 4.0,0a2.0,2.0 0 1,0 -4.0,0 M279.47,342.24a2.0,2.0 0 1,0 4.0,0a2.0,2.0 0 1,0 -4.0,0 M280.18,341.52a2.0,2.0 0 1,0 4.0,0a2.0,2.0 0 1,0 -4.0,0 M280.89,347.16a2.0,2.0 0 1,0 4.0,0a2.0,2.0 0 1,0 -4.0,0 M281.60,346.56a2.0,2.0 0 1,0 4.0,0a2.0,2.0 0 1,0 -4.0,0 M282.31,344.61a2.0,2.0 0 1,0 4.0,0a2.0,2.0 0 1,0 -4.0,0 M283.02,349.07a2.0,2.0 0 1,0 4.0,0a2.0,2.0 0 1,0 -4.0,0 M283.73,346.88a2.0,2.0 0 1,0 4.0,0a2.0,2.0 0 1,0 -4.0,0 M284.44,344.48a2.0,2.0 0 1,0 4.0,0a2.0,2.0 0 1,0 -4.0,0 M285.15,345.16a2.0,2.0 0 1,0 4.0,0a2.0,2.0 0 1,0 -4.0,0 M285.85,346.19a2.0,2.0 0 1,0 4.0,0a2.0,2.0 0 1,0 -4.0,0 M286.56,350.63a2.0,2.0 0 1,0 4.0,0a2.0,2.0 0 1,0 -4.0,0 M287.27,343.59a2.0,2.0 0 1,0 4.0,0a2.0,2.0 0 1,0 -4.0,0 M287.98,346.80a2.0,2.0 0 1,0 4.0,0a2.0,2.0 0 1,0 -4.0,0 M288.69,346.59a2.0,2.0 0 1,0 4.0,0a2.0,2.0 0 1,0 -4.0,0 M289.40,347.22a2.0,2.0 0 1,0 4.0,0a2.0,2.0 0 1,0 -4.0,0 M290.11,351.12a2.0,2.0 0 1,0 4.0,0a2.0,2.0 0 1,0 -4.0,0 M290.82,350.80a2.0,2.0 0 1,0 4.0,0a2.0,2.0 0 1,0 -4.0,0 M291.53,350.59a2.0,2.0 0 1,0 4.0,0a2.0,2.0 0 1,0 -4.0,0 M292.24,345.44a2.0,2.0 0 1,0 4.0,0a2.0,2.0 0 1,0 -4.0,0 M292.95,350.26a2.0,2.0 0 1,0 4.0,0a2.0,2.0 0 1,0 -4.0,0 M293.66,349.42a2.0,2.0 0 1,0 4.0,0a2.0,2.0 0 1,0 -4.0,0 M294.37,349.60a2.0,2.0 0 1,0 4.0,0a2.0,2.0 0 1,0 -4.0,0 M295.08,348.36a2.0,2.0 0 1,0 4.0,0a2.0,2.0 0 1,0 -4.0,0 M295.79,348.64a2.0,2.0 0 1,0 4.0,0a2.0,2.0 0 1,0 -4.0,0 M296.50,349.20a2.0,2.0 0 1,0 4.0,0a2.0,2.0 0 1,0 -4.0,0 M297.21,351.95a2.0,2.0 0 1,0 4.0,0a2.0,2.0 0 1,0 -4.0,0 M297.92,355.29a2.0,2.0 0 1,0 4.0,0a2.0,2.0 0 1,0 -4.0,0 M298.63,349.85a2.0,2.0 0 1,0 4.0,0a2.0,2.0 0 1,0 -4.0,0 M299.34,349.84a2.0,2.0 0 1,0 4.0,0a2.0,2.0 0 1,0 -4.0,0 M300.04,348.36a2.0,2.0 0 1,0 4.0,0a2.0,2.0 0 1,0 -4.0,0 M300.75,350.78a2.0,2.0 0 1,0 4.0,0a2.0,2.0 0 1,0 -4.0,0 M301.46,351.80a2.0,2.0 0 1,0 4.0,0a2.0,2.0 0 1,0 -4.0,0 M302.17,350.23a2.0,2.0 0 1,0 4.0,0a2.0,2.0 0 1,0 -4.0,0 M302.88,353.72a2.0,2.0 0 1,0 4.0,0a2.0,2.0 0 1,0 -4.0,0 M303.59,353.01a2.0,2.0 0 1,0 4.0,0a2.0,2.0 0 1,0 -4.0,0 M304.30,353.11a2.0,2.0 0 1,0 4.0,0a2.0,2.0 0 1,0 -4.0,0 M305.01,351.08a2.0,2.0 0 1,0 4.0,0a2.0,2.0 0 1,0 -4.0,0 M305.72,348.18a2.0,2.0 0 1,0 4.0,0a2.0,2.0 0 1,0 -4.0,0 M306.43,350.59a2.0,2.0 0 1,0 4.0,0a2.0,2.0 0 1,0 -4.0,0 M307.14,350.11a2.0,2.0 0 1,0 4.0,0a2.0,2.0 0 1,0 -4.0,0 M307.85,351.80a2.0,2.0 0 1,0 4.0,0a2.0,2.0 0 1,0 -4.0,0 M308.56,351.86a2.0,2.0 0 1,0 4.0,0a2.0,2.0 0 1,0 -4.0,0 M309.27,353.22a2.0,2.0 0 1,0 4.0,0a2.0,2.0 0 1,0 -4.0,0 M309.98,353.05a2.0,2.0 0 1,0 4.0,0a2.0,2.0 0 1,0 -4.0,0 M310.69,356.81a2.0,2.0 0 1,0 4.0,0a2.0,2.0 0 1,0 -4.0,0 M311.40,354.85a2.0,2.0 0 1,0 4.0,0a2.0,2.0 0 1,0 -4.0,0 M312.11,355.11a2.0,2.0 0 1,0 4.0,0a2.0,2.0 0 1,0 -4.0,0 M312.82,351.64a2.0,2.0 0 1,0 4.0,0a2.0,2.0 0 1,0 -4.0,0 M313.53,352.05a2.0,2.0 0 1,0 4.0,0a2.0,2.0 0 1,0 -4.0,0 M314.23,351.36a2.0,2.0 0 1,0 4.0,0a2.0,2.0 0 1,0 -4.0,0 M314.94,350.78a2.0,2.0 0 1,0 4.0,0a2.0,2.0 0 1,0 -4.0,0 M315.65,354.05a2.0,2.0 0 1,0 4.0,0a2.0,2.0 0 1,0 -4.0,0 M316.36,351.86a2.0,2.0 0 1,0 4.0,0a2.0,2.0 0 1,0 -4.0,0 M317.07,350.46a2.0,2.0 0 1,0 4.0,0a2.0,2.0 0 1,0 -4.0,0 M317.78,353.91a2.0,2.0 0 1,0 4.0,0a2.0,2.0 0 1,0 -4.0,0 M318.49,352.17a2.0,2.0 0 1,0 4.0,0a2.0,2.0 0 1,0 -4.0,0 M319.20,354.41a2.0,2.0 0 1,0 4.0,0a2.0,2.0 0 1,0 -4.0,0 M319.91,356.98a2.0,2.0 0 1,0 4.0,0a2.0,2.0 0 1,0 -4.0,0 M320.62,354.17a2.0,2.0 0 1,0 4.0,0a2.0,2.0 0 1,0 -4.0,0 M321.33,355.88a2.0,2.0 0 1,0 4.0,0a2.0,2.0 0 1,0 -4.0,0 M322.04,354.43a2.0,2.0 0 1,0 4.0,0a2.0,2.0 0 1,0 -4.0,0 M322.75,355.51a2.0,2.0 0 1,0 4.0,0a2.0,2.0 0 1,0 -4.0,0 M323.46,354.31a2.0,2.0 0 1,0 4.0,0a2.0,2.0 0 1,0 -4.0,0 M324.17,358.59a2.0,2.0 0 1,0 4.0,0a2.0,2.0 0 1,0 -4.0,0 M324.88,351.56a2.0,2.0 0 1,0 4.0,0a2.0,2.0 0 1,0 -4.0,0 M325.59,352.91a2.0,2.0 0 1,0 4.0,0a2.0,2.0 0 1,0 -4.0,0 M326.30,355.92a2.0,2.0 0 1,0 4.0,0a2.0,2.0 0 1,0 -4.0,0 M327.01,356.99a2.0,2.0 0 1,0 4.0,0a2.0,2.0 0 1,0 -4.0,0 M327.72,355.56a2.0,2.0 0 1,0 4.0,0a2.0,2.0 0 1,0 -4.0,0 M328.42,354.54a2.0,2.0 0 1,0 4.0,0a2.0,2.0 0 1,0 -4.0,0 M329.13,355.09a2.0,2.0 0 1,0 4.0,0a2.0,2.0 0 1,0 -4.0,0" fill="#cdd2e8"/>
<circle cx="272.15999999999997" cy="325.62" r="2" fill="#cdd2e8"/><circle cx="276.245" cy="321.99" r="2" fill="#cdd2e8"/>
<path d="M222.00,359.50a2.0,2.0 0 1,0 4.0,0a2.0,2.0 0 1,0 -4.0,0 M222.71,358.27a2.0,2.0 0 1,0 4.0,0a2.0,2.0 0 1,0 -4.0,0 M223.42,357.04a2.0,2.0 0 1,0 4.0,0a2.0,2.0 0 1,0 -4.0,0 M224.13,355.81a2.0,2.0 0 1,0 4.0,0a2.0,2.0 0 1,0 -4.0,0 M224.84,354.94a2.0,2.0 0 1,0 4.0,0a2.0,2.0 0 1,0 -4.0,0 M225.55,354.18a2.0,2.0 0 1,0 4.0,0a2.0,2.0 0 1,0 -4.0,0 M226.26,353.43a2.0,2.0 0 1,0 4.0,0a2.0,2.0 0 1,0 -4.0,0 M226.97,352.67a2.0,2.0 0 1,0 4.0,0a2.0,2.0 0 1,0 -4.0,0 M227.68,351.75a2.0,2.0 0 1,0 4.0,0a2.0,2.0 0 1,0 -4.0,0 M228.39,350.59a2.0,2.0 0 1,0 4.0,0a2.0,2.0 0 1,0 -4.0,0 M229.09,348.58a2.0,2.0 0 1,0 4.0,0a2.0,2.0 0 1,0 -4.0,0 M229.80,351.07a2.0,2.0 0 1,0 4.0,0a2.0,2.0 0 1,0 -4.0,0 M230.51,345.70a2.0,2.0 0 1,0 4.0,0a2.0,2.0 0 1,0 -4.0,0 M231.22,340.61a2.0,2.0 0 1,0 4.0,0a2.0,2.0 0 1,0 -4.0,0 M231.93,334.53a2.0,2.0 0 1,0 4.0,0a2.0,2.0 0 1,0 -4.0,0 M232.64,333.31a2.0,2.0 0 1,0 4.0,0a2.0,2.0 0 1,0 -4.0,0 M233.35,333.07a2.0,2.0 0 1,0 4.0,0a2.0,2.0 0 1,0 -4.0,0 M234.06,326.78a2.0,2.0 0 1,0 4.0,0a2.0,2.0 0 1,0 -4.0,0 M234.77,326.20a2.0,2.0 0 1,0 4.0,0a2.0,2.0 0 1,0 -4.0,0 M235.48,318.67a2.0,2.0 0 1,0 4.0,0a2.0,2.0 0 1,0 -4.0,0 M236.19,317.34a2.0,2.0 0 1,0 4.0,0a2.0,2.0 0 1,0 -4.0,0 M236.90,309.10a2.0,2.0 0 1,0 4.0,0a2.0,2.0 0 1,0 -4.0,0 M237.61,309.89a2.0,2.0 0 1,0 4.0,0a2.0,2.0 0 1,0 -4.0,0 M238.32,309.59a2.0,2.0 0 1,0 4.0,0a2.0,2.0 0 1,0 -4.0,0 M239.03,308.53a2.0,2.0 0 1,0 4.0,0a2.0,2.0 0 1,0 -4.0,0 M239.74,306.06a2.0,2.0 0 1,0 4.0,0a2.0,2.0 0 1,0 -4.0,0 M240.45,305.59a2.0,2.0 0 1,0 4.0,0a2.0,2.0 0 1,0 -4.0,0 M241.16,305.21a2.0,2.0 0 1,0 4.0,0a2.0,2.0 0 1,0 -4.0,0 M241.87,307.60a2.0,2.0 0 1,0 4.0,0a2.0,2.0 0 1,0 -4.0,0 M242.58,310.10a2.0,2.0 0 1,0 4.0,0a2.0,2.0 0 1,0 -4.0,0 M243.28,308.80a2.0,2.0 0 1,0 4.0,0a2.0,2.0 0 1,0 -4.0,0 M243.99,313.44a2.0,2.0 0 1,0 4.0,0a2.0,2.0 0 1,0 -4.0,0 M244.70,311.75a2.0,2.0 0 1,0 4.0,0a2.0,2.0 0 1,0 -4.0,0 M245.41,315.47a2.0,2.0 0 1,0 4.0,0a2.0,2.0 0 1,0 -4.0,0 M246.12,313.39a2.0,2.0 0 1,0 4.0,0a2.0,2.0 0 1,0 -4.0,0 M246.83,316.05a2.0,2.0 0 1,0 4.0,0a2.0,2.0 0 1,0 -4.0,0 M247.54,318.90a2.0,2.0 0 1,0 4.0,0a2.0,2.0 0 1,0 -4.0,0 M248.25,323.05a2.0,2.0 0 1,0 4.0,0a2.0,2.0 0 1,0 -4.0,0 M248.96,322.18a2.0,2.0 0 1,0 4.0,0a2.0,2.0 0 1,0 -4.0,0 M249.67,324.29a2.0,2.0 0 1,0 4.0,0a2.0,2.0 0 1,0 -4.0,0 M250.38,326.95a2.0,2.0 0 1,0 4.0,0a2.0,2.0 0 1,0 -4.0,0 M251.09,327.74a2.0,2.0 0 1,0 4.0,0a2.0,2.0 0 1,0 -4.0,0 M251.80,325.20a2.0,2.0 0 1,0 4.0,0a2.0,2.0 0 1,0 -4.0,0 M252.51,328.70a2.0,2.0 0 1,0 4.0,0a2.0,2.0 0 1,0 -4.0,0 M253.22,327.93a2.0,2.0 0 1,0 4.0,0a2.0,2.0 0 1,0 -4.0,0 M253.93,326.99a2.0,2.0 0 1,0 4.0,0a2.0,2.0 0 1,0 -4.0,0 M254.64,332.53a2.0,2.0 0 1,0 4.0,0a2.0,2.0 0 1,0 -4.0,0 M255.35,327.66a2.0,2.0 0 1,0 4.0,0a2.0,2.0 0 1,0 -4.0,0 M256.06,329.63a2.0,2.0 0 1,0 4.0,0a2.0,2.0 0 1,0 -4.0,0 M256.77,333.01a2.0,2.0 0 1,0 4.0,0a2.0,2.0 0 1,0 -4.0,0 M257.48,333.99a2.0,2.0 0 1,0 4.0,0a2.0,2.0 0 1,0 -4.0,0 M258.18,334.91a2.0,2.0 0 1,0 4.0,0a2.0,2.0 0 1,0 -4.0,0 M258.89,331.72a2.0,2.0 0 1,0 4.0,0a2.0,2.0 0 1,0 -4.0,0 M259.60,338.13a2.0,2.0 0 1,0 4.0,0a2.0,2.0 0 1,0 -4.0,0 M260.31,332.66a2.0,2.0 0 1,0 4.0,0a2.0,2.0 0 1,0 -4.0,0 M261.02,334.42a2.0,2.0 0 1,0 4.0,0a2.0,2.0 0 1,0 -4.0,0 M261.73,336.33a2.0,2.0 0 1,0 4.0,0a2.0,2.0 0 1,0 -4.0,0 M262.44,336.50a2.0,2.0 0 1,0 4.0,0a2.0,2.0 0 1,0 -4.0,0 M263.15,336.72a2.0,2.0 0 1,0 4.0,0a2.0,2.0 0 1,0 -4.0,0 M263.86,336.96a2.0,2.0 0 1,0 4.0,0a2.0,2.0 0 1,0 -4.0,0 M264.57,335.53a2.0,2.0 0 1,0 4.0,0a2.0,2.0 0 1,0 -4.0,0 M265.28,338.91a2.0,2.0 0 1,0 4.0,0a2.0,2.0 0 1,0 -4.0,0 M265.99,336.11a2.0,2.0 0 1,0 4.0,0a2.0,2.0 0 1,0 -4.0,0 M266.70,336.76a2.0,2.0 0 1,0 4.0,0a2.0,2.0 0 1,0 -4.0,0 M267.41,339.32a2.0,2.0 0 1,0 4.0,0a2.0,2.0 0 1,0 -4.0,0 M268.12,338.33a2.0,2.0 0 1,0 4.0,0a2.0,2.0 0 1,0 -4.0,0 M268.83,340.75a2.0,2.0 0 1,0 4.0,0a2.0,2.0 0 1,0 -4.0,0 M269.54,340.13a2.0,2.0 0 1,0 4.0,0a2.0,2.0 0 1,0 -4.0,0 M270.25,339.63a2.0,2.0 0 1,0 4.0,0a2.0,2.0 0 1,0 -4.0,0 M270.96,337.44a2.0,2.0 0 1,0 4.0,0a2.0,2.0 0 1,0 -4.0,0 M271.66,341.06a2.0,2.0 0 1,0 4.0,0a2.0,2.0 0 1,0 -4.0,0 M272.37,341.48a2.0,2.0 0 1,0 4.0,0a2.0,2.0 0 1,0 -4.0,0 M273.08,341.42a2.0,2.0 0 1,0 4.0,0a2.0,2.0 0 1,0 -4.0,0 M273.79,342.03a2.0,2.0 0 1,0 4.0,0a2.0,2.0 0 1,0 -4.0,0 M274.50,343.80a2.0,2.0 0 1,0 4.0,0a2.0,2.0 0 1,0 -4.0,0 M275.21,339.04a2.0,2.0 0 1,0 4.0,0a2.0,2.0 0 1,0 -4.0,0 M275.92,343.52a2.0,2.0 0 1,0 4.0,0a2.0,2.0 0 1,0 -4.0,0 M276.63,343.71a2.0,2.0 0 1,0 4.0,0a2.0,2.0 0 1,0 -4.0,0 M277.34,344.18a2.0,2.0 0 1,0 4.0,0a2.0,2.0 0 1,0 -4.0,0 M278.05,342.05a2.0,2.0 0 1,0 4.0,0a2.0,2.0 0 1,0 -4.0,0 M278.76,338.44a2.0,2.0 0 1,0 4.0,0a2.0,2.0 0 1,0 -4.0,0 M279.47,338.57a2.0,2.0 0 1,0 4.0,0a2.0,2.0 0 1,0 -4.0,0 M280.18,342.29a2.0,2.0 0 1,0 4.0,0a2.0,2.0 0 1,0 -4.0,0 M280.89,343.63a2.0,2.0 0 1,0 4.0,0a2.0,2.0 0 1,0 -4.0,0 M281.60,344.51a2.0,2.0 0 1,0 4.0,0a2.0,2.0 0 1,0 -4.0,0 M282.31,346.42a2.0,2.0 0 1,0 4.0,0a2.0,2.0 0 1,0 -4.0,0 M283.02,343.70a2.0,2.0 0 1,0 4.0,0a2.0,2.0 0 1,0 -4.0,0 M283.73,345.37a2.0,2.0 0 1,0 4.0,0a2.0,2.0 0 1,0 -4.0,0 M284.44,341.92a2.0,2.0 0 1,0 4.0,0a2.0,2.0 0 1,0 -4.0,0 M285.15,346.18a2.0,2.0 0 1,0 4.0,0a2.0,2.0 0 1,0 -4.0,0 M285.85,347.67a2.0,2.0 0 1,0 4.0,0a2.0,2.0 0 1,0 -4.0,0 M286.56,349.32a2.0,2.0 0 1,0 4.0,0a2.0,2.0 0 1,0 -4.0,0 M287.27,349.39a2.0,2.0 0 1,0 4.0,0a2.0,2.0 0 1,0 -4.0,0 M287.98,345.48a2.0,2.0 0 1,0 4.0,0a2.0,2.0 0 1,0 -4.0,0 M288.69,346.10a2.0,2.0 0 1,0 4.0,0a2.0,2.0 0 1,0 -4.0,0 M289.40,348.80a2.0,2.0 0 1,0 4.0,0a2.0,2.0 0 1,0 -4.0,0 M290.11,349.61a2.0,2.0 0 1,0 4.0,0a2.0,2.0 0 1,0 -4.0,0 M290.82,346.68a2.0,2.0 0 1,0 4.0,0a2.0,2.0 0 1,0 -4.0,0 M291.53,347.93a2.0,2.0 0 1,0 4.0,0a2.0,2.0 0 1,0 -4.0,0 M292.24,347.09a2.0,2.0 0 1,0 4.0,0a2.0,2.0 0 1,0 -4.0,0 M292.95,347.67a2.0,2.0 0 1,0 4.0,0a2.0,2.0 0 1,0 -4.0,0 M293.66,349.13a2.0,2.0 0 1,0 4.0,0a2.0,2.0 0 1,0 -4.0,0 M294.37,350.92a2.0,2.0 0 1,0 4.0,0a2.0,2.0 0 1,0 -4.0,0 M295.08,347.89a2.0,2.0 0 1,0 4.0,0a2.0,2.0 0 1,0 -4.0,0 M295.79,348.11a2.0,2.0 0 1,0 4.0,0a2.0,2.0 0 1,0 -4.0,0 M296.50,348.13a2.0,2.0 0 1,0 4.0,0a2.0,2.0 0 1,0 -4.0,0 M297.21,346.99a2.0,2.0 0 1,0 4.0,0a2.0,2.0 0 1,0 -4.0,0 M297.92,347.18a2.0,2.0 0 1,0 4.0,0a2.0,2.0 0 1,0 -4.0,0 M298.63,349.76a2.0,2.0 0 1,0 4.0,0a2.0,2.0 0 1,0 -4.0,0 M299.34,348.08a2.0,2.0 0 1,0 4.0,0a2.0,2.0 0 1,0 -4.0,0 M300.04,352.94a2.0,2.0 0 1,0 4.0,0a2.0,2.0 0 1,0 -4.0,0 M300.75,348.23a2.0,2.0 0 1,0 4.0,0a2.0,2.0 0 1,0 -4.0,0 M301.46,349.61a2.0,2.0 0 1,0 4.0,0a2.0,2.0 0 1,0 -4.0,0 M302.17,347.98a2.0,2.0 0 1,0 4.0,0a2.0,2.0 0 1,0 -4.0,0 M302.88,348.19a2.0,2.0 0 1,0 4.0,0a2.0,2.0 0 1,0 -4.0,0 M303.59,351.64a2.0,2.0 0 1,0 4.0,0a2.0,2.0 0 1,0 -4.0,0 M304.30,350.41a2.0,2.0 0 1,0 4.0,0a2.0,2.0 0 1,0 -4.0,0 M305.01,348.45a2.0,2.0 0 1,0 4.0,0a2.0,2.0 0 1,0 -4.0,0 M305.72,351.45a2.0,2.0 0 1,0 4.0,0a2.0,2.0 0 1,0 -4.0,0 M306.43,350.55a2.0,2.0 0 1,0 4.0,0a2.0,2.0 0 1,0 -4.0,0 M307.14,351.88a2.0,2.0 0 1,0 4.0,0a2.0,2.0 0 1,0 -4.0,0 M307.85,349.99a2.0,2.0 0 1,0 4.0,0a2.0,2.0 0 1,0 -4.0,0 M308.56,350.62a2.0,2.0 0 1,0 4.0,0a2.0,2.0 0 1,0 -4.0,0 M309.27,352.65a2.0,2.0 0 1,0 4.0,0a2.0,2.0 0 1,0 -4.0,0 M309.98,353.79a2.0,2.0 0 1,0 4.0,0a2.0,2.0 0 1,0 -4.0,0 M310.69,355.27a2.0,2.0 0 1,0 4.0,0a2.0,2.0 0 1,0 -4.0,0 M311.40,350.15a2.0,2.0 0 1,0 4.0,0a2.0,2.0 0 1,0 -4.0,0 M312.11,352.49a2.0,2.0 0 1,0 4.0,0a2.0,2.0 0 1,0 -4.0,0 M312.82,353.03a2.0,2.0 0 1,0 4.0,0a2.0,2.0 0 1,0 -4.0,0 M313.53,352.86a2.0,2.0 0 1,0 4.0,0a2.0,2.0 0 1,0 -4.0,0 M314.23,353.66a2.0,2.0 0 1,0 4.0,0a2.0,2.0 0 1,0 -4.0,0 M314.94,351.03a2.0,2.0 0 1,0 4.0,0a2.0,2.0 0 1,0 -4.0,0 M315.65,351.25a2.0,2.0 0 1,0 4.0,0a2.0,2.0 0 1,0 -4.0,0 M316.36,356.27a2.0,2.0 0 1,0 4.0,0a2.0,2.0 0 1,0 -4.0,0 M317.07,352.61a2.0,2.0 0 1,0 4.0,0a2.0,2.0 0 1,0 -4.0,0 M317.78,352.50a2.0,2.0 0 1,0 4.0,0a2.0,2.0 0 1,0 -4.0,0 M318.49,353.35a2.0,2.0 0 1,0 4.0,0a2.0,2.0 0 1,0 -4.0,0 M319.20,352.74a2.0,2.0 0 1,0 4.0,0a2.0,2.0 0 1,0 -4.0,0 M319.91,350.17a2.0,2.0 0 1,0 4.0,0a2.0,2.0 0 1,0 -4.0,0 M320.62,352.61a2.0,2.0 0 1,0 4.0,0a2.0,2.0 0 1,0 -4.0,0 M321.33,351.23a2.0,2.0 0 1,0 4.0,0a2.0,2.0 0 1,0 -4.0,0 M322.04,351.65a2.0,2.0 0 1,0 4.0,0a2.0,2.0 0 1,0 -4.0,0 M322.75,356.11a2.0,2.0 0 1,0 4.0,0a2.0,2.0 0 1,0 -4.0,0 M323.46,350.59a2.0,2.0 0 1,0 4.0,0a2.0,2.0 0 1,0 -4.0,0 M324.17,353.39a2.0,2.0 0 1,0 4.0,0a2.0,2.0 0 1,0 -4.0,0 M324.88,354.36a2.0,2.0 0 1,0 4.0,0a2.0,2.0 0 1,0 -4.0,0 M325.59,352.55a2.0,2.0 0 1,0 4.0,0a2.0,2.0 0 1,0 -4.0,0 M326.30,350.27a2.0,2.0 0 1,0 4.0,0a2.0,2.0 0 1,0 -4.0,0 M327.01,355.58a2.0,2.0 0 1,0 4.0,0a2.0,2.0 0 1,0 -4.0,0 M327.72,355.52a2.0,2.0 0 1,0 4.0,0a2.0,2.0 0 1,0 -4.0,0 M328.42,353.85a2.0,2.0 0 1,0 4.0,0a2.0,2.0 0 1,0 -4.0,0 M329.13,357.64a2.0,2.0 0 1,0 4.0,0a2.0,2.0 0 1,0 -4.0,0" fill="#949fc9"/>
<path d="M222.00,359.50a2.0,2.0 0 1,0 4.0,0a2.0,2.0 0 1,0 -4.0,0 M222.71,358.27a2.0,2.0 0 1,0 4.0,0a2.0,2.0 0 1,0 -4.0,0 M223.42,357.04a2.0,2.0 0 1,0 4.0,0a2.0,2.0 0 1,0 -4.0,0 M224.13,355.81a2.0,2.0 0 1,0 4.0,0a2.0,2.0 0 1,0 -4.0,0 M224.84,354.94a2.0,2.0 0 1,0 4.0,0a2.0,2.0 0 1,0 -4.0,0 M225.55,354.18a2.0,2.0 0 1,0 4.0,0a2.0,2.0 0 1,0 -4.0,0 M226.26,353.43a2.0,2.0 0 1,0 4.0,0a2.0,2.0 0 1,0 -4.0,0 M226.97,352.67a2.0,2.0 0 1,0 4.0,0a2.0,2.0 0 1,0 -4.0,0 M227.68,351.75a2.0,2.0 0 1,0 4.0,0a2.0,2.0 0 1,0 -4.0,0 M228.39,350.59a2.0,2.0 0 1,0 4.0,0a2.0,2.0 0 1,0 -4.0,0 M229.09,349.98a2.0,2.0 0 1,0 4.0,0a2.0,2.0 0 1,0 -4.0,0 M229.80,346.92a2.0,2.0 0 1,0 4.0,0a2.0,2.0 0 1,0 -4.0,0 M230.51,344.88a2.0,2.0 0 1,0 4.0,0a2.0,2.0 0 1,0 -4.0,0 M231.22,341.42a2.0,2.0 0 1,0 4.0,0a2.0,2.0 0 1,0 -4.0,0 M231.93,339.05a2.0,2.0 0 1,0 4.0,0a2.0,2.0 0 1,0 -4.0,0 M232.64,333.79a2.0,2.0 0 1,0 4.0,0a2.0,2.0 0 1,0 -4.0,0 M233.35,327.84a2.0,2.0 0 1,0 4.0,0a2.0,2.0 0 1,0 -4.0,0 M234.06,326.39a2.0,2.0 0 1,0 4.0,0a2.0,2.0 0 1,0 -4.0,0 M234.77,321.91a2.0,2.0 0 1,0 4.0,0a2.0,2.0 0 1,0 -4.0,0 M235.48,320.20a2.0,2.0 0 1,0 4.0,0a2.0,2.0 0 1,0 -4.0,0 M236.19,316.29a2.0,2.0 0 1,0 4.0,0a2.0,2.0 0 1,0 -4.0,0 M236.90,312.75a2.0,2.0 0 1,0 4.0,0a2.0,2.0 0 1,0 -4.0,0 M237.61,315.94a2.0,2.0 0 1,0 4.0,0a2.0,2.0 0 1,0 -4.0,0 M238.32,310.45a2.0,2.0 0 1,0 4.0,0a2.0,2.0 0 1,0 -4.0,0 M239.03,311.21a2.0,2.0 0 1,0 4.0,0a2.0,2.0 0 1,0 -4.0,0 M239.74,310.92a2.0,2.0 0 1,0 4.0,0a2.0,2.0 0 1,0 -4.0,0 M240.45,315.29a2.0,2.0 0 1,0 4.0,0a2.0,2.0 0 1,0 -4.0,0 M241.16,315.01a2.0,2.0 0 1,0 4.0,0a2.0,2.0 0 1,0 -4.0,0 M241.87,312.59a2.0,2.0 0 1,0 4.0,0a2.0,2.0 0 1,0 -4.0,0 M242.58,311.06a2.0,2.0 0 1,0 4.0,0a2.0,2.0 0 1,0 -4.0,0 M243.28,308.76a2.0,2.0 0 1,0 4.0,0a2.0,2.0 0 1,0 -4.0,0 M243.99,308.91a2.0,2.0 0 1,0 4.0,0a2.0,2.0 0 1,0 -4.0,0 M244.70,308.59a2.0,2.0 0 1,0 4.0,0a2.0,2.0 0 1,0 -4.0,0 M245.41,312.46a2.0,2.0 0 1,0 4.0,0a2.0,2.0 0 1,0 -4.0,0 M246.12,311.72a2.0,2.0 0 1,0 4.0,0a2.0,2.0 0 1,0 -4.0,0 M246.83,313.47a2.0,2.0 0 1,0 4.0,0a2.0,2.0 0 1,0 -4.0,0 M247.54,321.09a2.0,2.0 0 1,0 4.0,0a2.0,2.0 0 1,0 -4.0,0 M248.25,319.83a2.0,2.0 0 1,0 4.0,0a2.0,2.0 0 1,0 -4.0,0 M248.96,323.49a2.0,2.0 0 1,0 4.0,0a2.0,2.0 0 1,0 -4.0,0 M249.67,323.21a2.0,2.0 0 1,0 4.0,0a2.0,2.0 0 1,0 -4.0,0 M250.38,328.29a2.0,2.0 0 1,0 4.0,0a2.0,2.0 0 1,0 -4.0,0 M251.09,329.68a2.0,2.0 0 1,0 4.0,0a2.0,2.0 0 1,0 -4.0,0 M251.80,329.61a2.0,2.0 0 1,0 4.0,0a2.0,2.0 0 1,0 -4.0,0 M252.51,329.53a2.0,2.0 0 1,0 4.0,0a2.0,2.0 0 1,0 -4.0,0 M253.22,328.35a2.0,2.0 0 1,0 4.0,0a2.0,2.0 0 1,0 -4.0,0 M253.93,329.63a2.0,2.0 0 1,0 4.0,0a2.0,2.0 0 1,0 -4.0,0 M254.64,331.58a2.0,2.0 0 1,0 4.0,0a2.0,2.0 0 1,0 -4.0,0 M255.35,333.12a2.0,2.0 0 1,0 4.0,0a2.0,2.0 0 1,0 -4.0,0 M256.06,332.61a2.0,2.0 0 1,0 4.0,0a2.0,2.0 0 1,0 -4.0,0 M256.77,329.25a2.0,2.0 0 1,0 4.0,0a2.0,2.0 0 1,0 -4.0,0 M257.48,334.11a2.0,2.0 0 1,0 4.0,0a2.0,2.0 0 1,0 -4.0,0 M258.18,332.25a2.0,2.0 0 1,0 4.0,0a2.0,2.0 0 1,0 -4.0,0 M258.89,332.31a2.0,2.0 0 1,0 4.0,0a2.0,2.0 0 1,0 -4.0,0 M259.60,336.93a2.0,2.0 0 1,0 4.0,0a2.0,2.0 0 1,0 -4.0,0 M260.31,334.03a2.0,2.0 0 1,0 4.0,0a2.0,2.0 0 1,0 -4.0,0 M261.02,331.74a2.0,2.0 0 1,0 4.0,0a2.0,2.0 0 1,0 -4.0,0 M261.73,339.43a2.0,2.0 0 1,0 4.0,0a2.0,2.0 0 1,0 -4.0,0 M262.44,336.19a2.0,2.0 0 1,0 4.0,0a2.0,2.0 0 1,0 -4.0,0 M263.15,336.17a2.0,2.0 0 1,0 4.0,0a2.0,2.0 0 1,0 -4.0,0 M263.86,338.17a2.0,2.0 0 1,0 4.0,0a2.0,2.0 0 1,0 -4.0,0 M264.57,335.76a2.0,2.0 0 1,0 4.0,0a2.0,2.0 0 1,0 -4.0,0 M265.28,337.40a2.0,2.0 0 1,0 4.0,0a2.0,2.0 0 1,0 -4.0,0 M265.99,340.83a2.0,2.0 0 1,0 4.0,0a2.0,2.0 0 1,0 -4.0,0 M266.70,336.21a2.0,2.0 0 1,0 4.0,0a2.0,2.0 0 1,0 -4.0,0 M267.41,336.93a2.0,2.0 0 1,0 4.0,0a2.0,2.0 0 1,0 -4.0,0 M268.12,336.70a2.0,2.0 0 1,0 4.0,0a2.0,2.0 0 1,0 -4.0,0 M268.83,336.00a2.0,2.0 0 1,0 4.0,0a2.0,2.0 0 1,0 -4.0,0 M269.54,338.72a2.0,2.0 0 1,0 4.0,0a2.0,2.0 0 1,0 -4.0,0 M270.25,339.62a2.0,2.0 0 1,0 4.0,0a2.0,2.0 0 1,0 -4.0,0 M270.96,343.09a2.0,2.0 0 1,0 4.0,0a2.0,2.0 0 1,0 -4.0,0 M271.66,339.29a2.0,2.0 0 1,0 4.0,0a2.0,2.0 0 1,0 -4.0,0 M272.37,342.21a2.0,2.0 0 1,0 4.0,0a2.0,2.0 0 1,0 -4.0,0 M273.08,342.06a2.0,2.0 0 1,0 4.0,0a2.0,2.0 0 1,0 -4.0,0 M273.79,344.02a2.0,2.0 0 1,0 4.0,0a2.0,2.0 0 1,0 -4.0,0 M274.50,343.57a2.0,2.0 0 1,0 4.0,0a2.0,2.0 0 1,0 -4.0,0 M275.21,342.81a2.0,2.0 0 1,0 4.0,0a2.0,2.0 0 1,0 -4.0,0 M275.92,339.04a2.0,2.0 0 1,0 4.0,0a2.0,2.0 0 1,0 -4.0,0 M276.63,346.46a2.0,2.0 0 1,0 4.0,0a2.0,2.0 0 1,0 -4.0,0 M277.34,345.41a2.0,2.0 0 1,0 4.0,0a2.0,2.0 0 1,0 -4.0,0 M278.05,341.90a2.0,2.0 0 1,0 4.0,0a2.0,2.0 0 1,0 -4.0,0 M278.76,339.48a2.0,2.0 0 1,0 4.0,0a2.0,2.0 0 1,0 -4.0,0 M279.47,341.57a2.0,2.0 0 1,0 4.0,0a2.0,2.0 0 1,0 -4.0,0 M280.18,347.17a2.0,2.0 0 1,0 4.0,0a2.0,2.0 0 1,0 -4.0,0 M280.89,348.72a2.0,2.0 0 1,0 4.0,0a2.0,2.0 0 1,0 -4.0,0 M281.60,342.66a2.0,2.0 0 1,0 4.0,0a2.0,2.0 0 1,0 -4.0,0 M282.31,345.25a2.0,2.0 0 1,0 4.0,0a2.0,2.0 0 1,0 -4.0,0 M283.02,346.29a2.0,2.0 0 1,0 4.0,0a2.0,2.0 0 1,0 -4.0,0 M283.73,341.93a2.0,2.0 0 1,0 4.0,0a2.0,2.0 0 1,0 -4.0,0 M284.44,341.86a2.0,2.0 0 1,0 4.0,0a2.0,2.0 0 1,0 -4.0,0 M285.15,344.12a2.0,2.0 0 1,0 4.0,0a2.0,2.0 0 1,0 -4.0,0 M285.85,344.13a2.0,2.0 0 1,0 4.0,0a2.0,2.0 0 1,0 -4.0,0 M286.56,343.93a2.0,2.0 0 1,0 4.0,0a2.0,2.0 0 1,0 -4.0,0 M287.27,341.62a2.0,2.0 0 1,0 4.0,0a2.0,2.0 0 1,0 -4.0,0 M287.98,343.98a2.0,2.0 0 1,0 4.0,0a2.0,2.0 0 1,0 -4.0,0 M288.69,344.43a2.0,2.0 0 1,0 4.0,0a2.0,2.0 0 1,0 -4.0,0 M289.40,344.61a2.0,2.0 0 1,0 4.0,0a2.0,2.0 0 1,0 -4.0,0 M290.11,349.45a2.0,2.0 0 1,0 4.0,0a2.0,2.0 0 1,0 -4.0,0 M290.82,343.48a2.0,2.0 0 1,0 4.0,0a2.0,2.0 0 1,0 -4.0,0 M291.53,344.42a2.0,2.0 0 1,0 4.0,0a2.0,2.0 0 1,0 -4.0,0 M292.24,345.58a2.0,2.0 0 1,0 4.0,0a2.0,2.0 0 1,0 -4.0,0 M292.95,351.27a2.0,2.0 0 1,0 4.0,0a2.0,2.0 0 1,0 -4.0,0 M293.66,348.59a2.0,2.0 0 1,0 4.0,0a2.0,2.0 0 1,0 -4.0,0 M294.37,345.61a2.0,2.0 0 1,0 4.0,0a2.0,2.0 0 1,0 -4.0,0 M295.08,351.62a2.0,2.0 0 1,0 4.0,0a2.0,2.0 0 1,0 -4.0,0 M295.79,348.31a2.0,2.0 0 1,0 4.0,0a2.0,2.0 0 1,0 -4.0,0 M296.50,345.93a2.0,2.0 0 1,0 4.0,0a2.0,2.0 0 1,0 -4.0,0 M297.21,351.24a2.0,2.0 0 1,0 4.0,0a2.0,2.0 0 1,0 -4.0,0 M297.92,345.11a2.0,2.0 0 1,0 4.0,0a2.0,2.0 0 1,0 -4.0,0 M298.63,347.65a2.0,2.0 0 1,0 4.0,0a2.0,2.0 0 1,0 -4.0,0 M299.34,349.41a2.0,2.0 0 1,0 4.0,0a2.0,2.0 0 1,0 -4.0,0 M300.04,348.61a2.0,2.0 0 1,0 4.0,0a2.0,2.0 0 1,0 -4.0,0 M300.75,348.14a2.0,2.0 0 1,0 4.0,0a2.0,2.0 0 1,0 -4.0,0 M301.46,349.53a2.0,2.0 0 1,0 4.0,0a2.0,2.0 0 1,0 -4.0,0 M302.17,347.41a2.0,2.0 0 1,0 4.0,0a2.0,2.0 0 1,0 -4.0,0 M302.88,351.45a2.0,2.0 0 1,0 4.0,0a2.0,2.0 0 1,0 -4.0,0 M303.59,351.01a2.0,2.0 0 1,0 4.0,0a2.0,2.0 0 1,0 -4.0,0 M304.30,347.94a2.0,2.0 0 1,0 4.0,0a2.0,2.0 0 1,0 -4.0,0 M305.01,350.25a2.0,2.0 0 1,0 4.0,0a2.0,2.0 0 1,0 -4.0,0 M305.72,352.32a2.0,2.0 0 1,0 4.0,0a2.0,2.0 0 1,0 -4.0,0 M306.43,348.45a2.0,2.0 0 1,0 4.0,0a2.0,2.0 0 1,0 -4.0,0 M307.14,347.41a2.0,2.0 0 1,0 4.0,0a2.0,2.0 0 1,0 -4.0,0 M307.85,351.68a2.0,2.0 0 1,0 4.0,0a2.0,2.0 0 1,0 -4.0,0 M308.56,353.81a2.0,2.0 0 1,0 4.0,0a2.0,2.0 0 1,0 -4.0,0 M309.27,351.20a2.0,2.0 0 1,0 4.0,0a2.0,2.0 0 1,0 -4.0,0 M309.98,351.33a2.0,2.0 0 1,0 4.0,0a2.0,2.0 0 1,0 -4.0,0 M310.69,351.75a2.0,2.0 0 1,0 4.0,0a2.0,2.0 0 1,0 -4.0,0 M311.40,348.15a2.0,2.0 0 1,0 4.0,0a2.0,2.0 0 1,0 -4.0,0 M312.11,353.54a2.0,2.0 0 1,0 4.0,0a2.0,2.0 0 1,0 -4.0,0 M312.82,348.66a2.0,2.0 0 1,0 4.0,0a2.0,2.0 0 1,0 -4.0,0 M313.53,354.27a2.0,2.0 0 1,0 4.0,0a2.0,2.0 0 1,0 -4.0,0 M314.23,353.32a2.0,2.0 0 1,0 4.0,0a2.0,2.0 0 1,0 -4.0,0 M314.94,350.33a2.0,2.0 0 1,0 4.0,0a2.0,2.0 0 1,0 -4.0,0 M315.65,349.35a2.0,2.0 0 1,0 4.0,0a2.0,2.0 0 1,0 -4.0,0 M316.36,350.03a2.0,2.0 0 1,0 4.0,0a2.0,2.0 0 1,0 -4.0,0 M317.07,351.25a2.0,2.0 0 1,0 4.0,0a2.0,2.0 0 1,0 -4.0,0 M317.78,351.79a2.0,2.0 0 1,0 4.0,0a2.0,2.0 0 1,0 -4.0,0 M318.49,351.87a2.0,2.0 0 1,0 4.0,0a2.0,2.0 0 1,0 -4.0,0 M319.20,351.04a2.0,2.0 0 1,0 4.0,0a2.0,2.0 0 1,0 -4.0,0 M319.91,352.75a2.0,2.0 0 1,0 4.0,0a2.0,2.0 0 1,0 -4.0,0 M320.62,351.85a2.0,2.0 0 1,0 4.0,0a2.0,2.0 0 1,0 -4.0,0 M321.33,351.28a2.0,2.0 0 1,0 4.0,0a2.0,2.0 0 1,0 -4.0,0 M322.04,352.61a2.0,2.0 0 1,0 4.0,0a2.0,2.0 0 1,0 -4.0,0 M322.75,351.03a2.0,2.0 0 1,0 4.0,0a2.0,2.0 0 1,0 -4.0,0 M323.46,351.54a2.0,2.0 0 1,0 4.0,0a2.0,2.0 0 1,0 -4.0,0 M324.17,348.47a2.0,2.0 0 1,0 4.0,0a2.0,2.0 0 1,0 -4.0,0 M324.88,352.22a2.0,2.0 0 1,0 4.0,0a2.0,2.0 0 1,0 -4.0,0 M325.59,353.94a2.0,2.0 0 1,0 4.0,0a2.0,2.0 0 1,0 -4.0,0 M326.30,353.90a2.0,2.0 0 1,0 4.0,0a2.0,2.0 0 1,0 -4.0,0 M327.01,353.20a2.0,2.0 0 1,0 4.0,0a2.0,2.0 0 1,0 -4.0,0 M327.72,351.24a2.0,2.0 0 1,0 4.0,0a2.0,2.0 0 1,0 -4.0,0 M328.42,354.06a2.0,2.0 0 1,0 4.0,0a2.0,2.0 0 1,0 -4.0,0 M329.13,352.57a2.0,2.0 0 1,0 4.0,0a2.0,2.0 0 1,0 -4.0,0" fill="#4d68a3"/>
<line x1="320.75" y1="341.35" x2="320.75" y2="352.24" stroke="#1f3f7d" stroke-width="0.9" />
<line x1="274.525" y1="335.3" x2="274.525" y2="349.82" stroke="#1f3f7d" stroke-width="0.9" />
<line x1="280.545" y1="335.905" x2="280.545" y2="349.215" stroke="#1f3f7d" stroke-width="0.9" />
<path d="M222.00,359.50a2.0,2.0 0 1,0 4.0,0a2.0,2.0 0 1,0 -4.0,0 M222.71,358.27a2.0,2.0 0 1,0 4.0,0a2.0,2.0 0 1,0 -4.0,0 M223.42,357.04a2.0,2.0 0 1,0 4.0,0a2.0,2.0 0 1,0 -4.0,0 M224.13,355.81a2.0,2.0 0 1,0 4.0,0a2.0,2.0 0 1,0 -4.0,0 M224.84,354.94a2.0,2.0 0 1,0 4.0,0a2.0,2.0 0 1,0 -4.0,0 M225.55,354.18a2.0,2.0 0 1,0 4.0,0a2.0,2.0 0 1,0 -4.0,0 M226.26,353.43a2.0,2.0 0 1,0 4.0,0a2.0,2.0 0 1,0 -4.0,0 M226.97,352.67a2.0,2.0 0 1,0 4.0,0a2.0,2.0 0 1,0 -4.0,0 M227.68,351.75a2.0,2.0 0 1,0 4.0,0a2.0,2.0 0 1,0 -4.0,0 M228.39,350.59a2.0,2.0 0 1,0 4.0,0a2.0,2.0 0 1,0 -4.0,0 M229.09,348.52a2.0,2.0 0 1,0 4.0,0a2.0,2.0 0 1,0 -4.0,0 M229.80,341.91a2.0,2.0 0 1,0 4.0,0a2.0,2.0 0 1,0 -4.0,0 M230.51,341.73a2.0,2.0 0 1,0 4.0,0a2.0,2.0 0 1,0 -4.0,0 M231.22,338.04a2.0,2.0 0 1,0 4.0,0a2.0,2.0 0 1,0 -4.0,0 M231.93,335.46a2.0,2.0 0 1,0 4.0,0a2.0,2.0 0 1,0 -4.0,0 M232.64,332.39a2.0,2.0 0 1,0 4.0,0a2.0,2.0 0 1,0 -4.0,0 M233.35,328.60a2.0,2.0 0 1,0 4.0,0a2.0,2.0 0 1,0 -4.0,0 M234.06,327.32a2.0,2.0 0 1,0 4.0,0a2.0,2.0 0 1,0 -4.0,0 M234.77,325.85a2.0,2.0 0 1,0 4.0,0a2.0,2.0 0 1,0 -4.0,0 M235.48,322.83a2.0,2.0 0 1,0 4.0,0a2.0,2.0 0 1,0 -4.0,0 M236.19,320.10a2.0,2.0 0 1,0 4.0,0a2.0,2.0 0 1,0 -4.0,0 M236.90,313.38a2.0,2.0 0 1,0 4.0,0a2.0,2.0 0 1,0 -4.0,0 M237.61,311.90a2.0,2.0 0 1,0 4.0,0a2.0,2.0 0 1,0 -4.0,0 M238.32,309.26a2.0,2.0 0 1,0 4.0,0a2.0,2.0 0 1,0 -4.0,0 M239.03,312.02a2.0,2.0 0 1,0 4.0,0a2.0,2.0 0 1,0 -4.0,0 M239.74,312.58a2.0,2.0 0 1,0 4.0,0a2.0,2.0 0 1,0 -4.0,0 M240.45,311.63a2.0,2.0 0 1,0 4.0,0a2.0,2.0 0 1,0 -4.0,0 M241.16,313.28a2.0,2.0 0 1,0 4.0,0a2.0,2.0 0 1,0 -4.0,0 M241.87,316.99a2.0,2.0 0 1,0 4.0,0a2.0,2.0 0 1,0 -4.0,0 M242.58,308.54a2.0,2.0 0 1,0 4.0,0a2.0,2.0 0 1,0 -4.0,0 M243.28,311.03a2.0,2.0 0 1,0 4.0,0a2.0,2.0 0 1,0 -4.0,0 M243.99,308.12a2.0,2.0 0 1,0 4.0,0a2.0,2.0 0 1,0 -4.0,0 M244.70,310.12a2.0,2.0 0 1,0 4.0,0a2.0,2.0 0 1,0 -4.0,0 M245.41,303.59a2.0,2.0 0 1,0 4.0,0a2.0,2.0 0 1,0 -4.0,0 M246.12,309.28a2.0,2.0 0 1,0 4.0,0a2.0,2.0 0 1,0 -4.0,0 M246.83,313.03a2.0,2.0 0 1,0 4.0,0a2.0,2.0 0 1,0 -4.0,0 M247.54,322.20a2.0,2.0 0 1,0 4.0,0a2.0,2.0 0 1,0 -4.0,0 M248.25,321.09a2.0,2.0 0 1,0 4.0,0a2.0,2.0 0 1,0 -4.0,0 M248.96,326.65a2.0,2.0 0 1,0 4.0,0a2.0,2.0 0 1,0 -4.0,0 M249.67,322.67a2.0,2.0 0 1,0 4.0,0a2.0,2.0 0 1,0 -4.0,0 M250.38,330.45a2.0,2.0 0 1,0 4.0,0a2.0,2.0 0 1,0 -4.0,0 M251.09,328.01a2.0,2.0 0 1,0 4.0,0a2.0,2.0 0 1,0 -4.0,0 M251.80,326.26a2.0,2.0 0 1,0 4.0,0a2.0,2.0 0 1,0 -4.0,0 M252.51,331.15a2.0,2.0 0 1,0 4.0,0a2.0,2.0 0 1,0 -4.0,0 M253.22,329.18a2.0,2.0 0 1,0 4.0,0a2.0,2.0 0 1,0 -4.0,0 M253.93,329.48a2.0,2.0 0 1,0 4.0,0a2.0,2.0 0 1,0 -4.0,0 M254.64,327.96a2.0,2.0 0 1,0 4.0,0a2.0,2.0 0 1,0 -4.0,0 M255.35,331.97a2.0,2.0 0 1,0 4.0,0a2.0,2.0 0 1,0 -4.0,0 M256.06,329.46a2.0,2.0 0 1,0 4.0,0a2.0,2.0 0 1,0 -4.0,0 M256.77,326.43a2.0,2.0 0 1,0 4.0,0a2.0,2.0 0 1,0 -4.0,0 M257.48,335.79a2.0,2.0 0 1,0 4.0,0a2.0,2.0 0 1,0 -4.0,0 M258.18,334.65a2.0,2.0 0 1,0 4.0,0a2.0,2.0 0 1,0 -4.0,0 M258.89,331.78a2.0,2.0 0 1,0 4.0,0a2.0,2.0 0 1,0 -4.0,0 M259.60,335.04a2.0,2.0 0 1,0 4.0,0a2.0,2.0 0 1,0 -4.0,0 M260.31,337.22a2.0,2.0 0 1,0 4.0,0a2.0,2.0 0 1,0 -4.0,0 M261.02,330.70a2.0,2.0 0 1,0 4.0,0a2.0,2.0 0 1,0 -4.0,0 M261.73,332.32a2.0,2.0 0 1,0 4.0,0a2.0,2.0 0 1,0 -4.0,0 M262.44,332.40a2.0,2.0 0 1,0 4.0,0a2.0,2.0 0 1,0 -4.0,0 M263.15,332.91a2.0,2.0 0 1,0 4.0,0a2.0,2.0 0 1,0 -4.0,0 M263.86,334.26a2.0,2.0 0 1,0 4.0,0a2.0,2.0 0 1,0 -4.0,0 M264.57,338.60a2.0,2.0 0 1,0 4.0,0a2.0,2.0 0 1,0 -4.0,0 M265.28,342.92a2.0,2.0 0 1,0 4.0,0a2.0,2.0 0 1,0 -4.0,0 M265.99,336.05a2.0,2.0 0 1,0 4.0,0a2.0,2.0 0 1,0 -4.0,0 M266.70,340.40a2.0,2.0 0 1,0 4.0,0a2.0,2.0 0 1,0 -4.0,0 M267.41,337.94a2.0,2.0 0 1,0 4.0,0a2.0,2.0 0 1,0 -4.0,0 M268.12,337.45a2.0,2.0 0 1,0 4.0,0a2.0,2.0 0 1,0 -4.0,0 M268.83,341.98a2.0,2.0 0 1,0 4.0,0a2.0,2.0 0 1,0 -4.0,0 M269.54,340.03a2.0,2.0 0 1,0 4.0,0a2.0,2.0 0 1,0 -4.0,0 M270.25,335.17a2.0,2.0 0 1,0 4.0,0a2.0,2.0 0 1,0 -4.0,0 M270.96,337.99a2.0,2.0 0 1,0 4.0,0a2.0,2.0 0 1,0 -4.0,0 M271.66,344.39a2.0,2.0 0 1,0 4.0,0a2.0,2.0 0 1,0 -4.0,0 M272.37,341.05a2.0,2.0 0 1,0 4.0,0a2.0,2.0 0 1,0 -4.0,0 M273.08,340.73a2.0,2.0 0 1,0 4.0,0a2.0,2.0 0 1,0 -4.0,0 M273.79,339.49a2.0,2.0 0 1,0 4.0,0a2.0,2.0 0 1,0 -4.0,0 M274.50,339.25a2.0,2.0 0 1,0 4.0,0a2.0,2.0 0 1,0 -4.0,0 M275.21,341.49a2.0,2.0 0 1,0 4.0,0a2.0,2.0 0 1,0 -4.0,0 M275.92,342.11a2.0,2.0 0 1,0 4.0,0a2.0,2.0 0 1,0 -4.0,0 M276.63,339.51a2.0,2.0 0 1,0 4.0,0a2.0,2.0 0 1,0 -4.0,0 M277.34,345.52a2.0,2.0 0 1,0 4.0,0a2.0,2.0 0 1,0 -4.0,0 M278.05,339.22a2.0,2.0 0 1,0 4.0,0a2.0,2.0 0 1,0 -4.0,0 M278.76,341.46a2.0,2.0 0 1,0 4.0,0a2.0,2.0 0 1,0 -4.0,0 M279.47,343.77a2.0,2.0 0 1,0 4.0,0a2.0,2.0 0 1,0 -4.0,0 M280.18,344.19a2.0,2.0 0 1,0 4.0,0a2.0,2.0 0 1,0 -4.0,0 M280.89,342.35a2.0,2.0 0 1,0 4.0,0a2.0,2.0 0 1,0 -4.0,0 M281.60,346.85a2.0,2.0 0 1,0 4.0,0a2.0,2.0 0 1,0 -4.0,0 M282.31,349.26a2.0,2.0 0 1,0 4.0,0a2.0,2.0 0 1,0 -4.0,0 M283.02,342.62a2.0,2.0 0 1,0 4.0,0a2.0,2.0 0 1,0 -4.0,0 M283.73,340.12a2.0,2.0 0 1,0 4.0,0a2.0,2.0 0 1,0 -4.0,0 M284.44,344.38a2.0,2.0 0 1,0 4.0,0a2.0,2.0 0 1,0 -4.0,0 M285.15,344.09a2.0,2.0 0 1,0 4.0,0a2.0,2.0 0 1,0 -4.0,0 M285.85,344.47a2.0,2.0 0 1,0 4.0,0a2.0,2.0 0 1,0 -4.0,0 M286.56,347.08a2.0,2.0 0 1,0 4.0,0a2.0,2.0 0 1,0 -4.0,0 M287.27,343.85a2.0,2.0 0 1,0 4.0,0a2.0,2.0 0 1,0 -4.0,0 M287.98,343.06a2.0,2.0 0 1,0 4.0,0a2.0,2.0 0 1,0 -4.0,0 M288.69,345.28a2.0,2.0 0 1,0 4.0,0a2.0,2.0 0 1,0 -4.0,0 M289.40,343.33a2.0,2.0 0 1,0 4.0,0a2.0,2.0 0 1,0 -4.0,0 M290.11,348.41a2.0,2.0 0 1,0 4.0,0a2.0,2.0 0 1,0 -4.0,0 M290.82,345.43a2.0,2.0 0 1,0 4.0,0a2.0,2.0 0 1,0 -4.0,0 M291.53,348.20a2.0,2.0 0 1,0 4.0,0a2.0,2.0 0 1,0 -4.0,0 M292.24,347.79a2.0,2.0 0 1,0 4.0,0a2.0,2.0 0 1,0 -4.0,0 M292.95,346.13a2.0,2.0 0 1,0 4.0,0a2.0,2.0 0 1,0 -4.0,0 M293.66,346.63a2.0,2.0 0 1,0 4.0,0a2.0,2.0 0 1,0 -4.0,0 M294.37,345.14a2.0,2.0 0 1,0 4.0,0a2.0,2.0 0 1,0 -4.0,0 M295.08,345.86a2.0,2.0 0 1,0 4.0,0a2.0,2.0 0 1,0 -4.0,0 M295.79,350.72a2.0,2.0 0 1,0 4.0,0a2.0,2.0 0 1,0 -4.0,0 M296.50,344.76a2.0,2.0 0 1,0 4.0,0a2.0,2.0 0 1,0 -4.0,0 M297.21,352.18a2.0,2.0 0 1,0 4.0,0a2.0,2.0 0 1,0 -4.0,0 M297.92,348.73a2.0,2.0 0 1,0 4.0,0a2.0,2.0 0 1,0 -4.0,0 M298.63,347.99a2.0,2.0 0 1,0 4.0,0a2.0,2.0 0 1,0 -4.0,0 M299.34,349.20a2.0,2.0 0 1,0 4.0,0a2.0,2.0 0 1,0 -4.0,0 M300.04,348.00a2.0,2.0 0 1,0 4.0,0a2.0,2.0 0 1,0 -4.0,0 M300.75,349.42a2.0,2.0 0 1,0 4.0,0a2.0,2.0 0 1,0 -4.0,0 M301.46,352.18a2.0,2.0 0 1,0 4.0,0a2.0,2.0 0 1,0 -4.0,0 M302.17,347.84a2.0,2.0 0 1,0 4.0,0a2.0,2.0 0 1,0 -4.0,0 M302.88,350.10a2.0,2.0 0 1,0 4.0,0a2.0,2.0 0 1,0 -4.0,0 M303.59,352.36a2.0,2.0 0 1,0 4.0,0a2.0,2.0 0 1,0 -4.0,0 M304.30,350.03a2.0,2.0 0 1,0 4.0,0a2.0,2.0 0 1,0 -4.0,0 M305.01,350.35a2.0,2.0 0 1,0 4.0,0a2.0,2.0 0 1,0 -4.0,0 M305.72,349.55a2.0,2.0 0 1,0 4.0,0a2.0,2.0 0 1,0 -4.0,0 M306.43,351.93a2.0,2.0 0 1,0 4.0,0a2.0,2.0 0 1,0 -4.0,0 M307.14,350.16a2.0,2.0 0 1,0 4.0,0a2.0,2.0 0 1,0 -4.0,0 M307.85,351.15a2.0,2.0 0 1,0 4.0,0a2.0,2.0 0 1,0 -4.0,0 M308.56,346.82a2.0,2.0 0 1,0 4.0,0a2.0,2.0 0 1,0 -4.0,0 M309.27,351.79a2.0,2.0 0 1,0 4.0,0a2.0,2.0 0 1,0 -4.0,0 M309.98,347.82a2.0,2.0 0 1,0 4.0,0a2.0,2.0 0 1,0 -4.0,0 M310.69,351.30a2.0,2.0 0 1,0 4.0,0a2.0,2.0 0 1,0 -4.0,0 M311.40,348.40a2.0,2.0 0 1,0 4.0,0a2.0,2.0 0 1,0 -4.0,0 M312.11,345.55a2.0,2.0 0 1,0 4.0,0a2.0,2.0 0 1,0 -4.0,0 M312.82,352.35a2.0,2.0 0 1,0 4.0,0a2.0,2.0 0 1,0 -4.0,0 M313.53,351.14a2.0,2.0 0 1,0 4.0,0a2.0,2.0 0 1,0 -4.0,0 M314.23,353.84a2.0,2.0 0 1,0 4.0,0a2.0,2.0 0 1,0 -4.0,0 M314.94,353.45a2.0,2.0 0 1,0 4.0,0a2.0,2.0 0 1,0 -4.0,0 M315.65,353.19a2.0,2.0 0 1,0 4.0,0a2.0,2.0 0 1,0 -4.0,0 M316.36,351.67a2.0,2.0 0 1,0 4.0,0a2.0,2.0 0 1,0 -4.0,0 M317.07,349.71a2.0,2.0 0 1,0 4.0,0a2.0,2.0 0 1,0 -4.0,0 M317.78,349.89a2.0,2.0 0 1,0 4.0,0a2.0,2.0 0 1,0 -4.0,0 M318.49,353.41a2.0,2.0 0 1,0 4.0,0a2.0,2.0 0 1,0 -4.0,0 M319.20,351.92a2.0,2.0 0 1,0 4.0,0a2.0,2.0 0 1,0 -4.0,0 M319.91,355.98a2.0,2.0 0 1,0 4.0,0a2.0,2.0 0 1,0 -4.0,0 M320.62,351.01a2.0,2.0 0 1,0 4.0,0a2.0,2.0 0 1,0 -4.0,0 M321.33,353.12a2.0,2.0 0 1,0 4.0,0a2.0,2.0 0 1,0 -4.0,0 M322.04,355.28a2.0,2.0 0 1,0 4.0,0a2.0,2.0 0 1,0 -4.0,0 M322.75,354.49a2.0,2.0 0 1,0 4.0,0a2.0,2.0 0 1,0 -4.0,0 M323.46,351.35a2.0,2.0 0 1,0 4.0,0a2.0,2.0 0 1,0 -4.0,0 M324.17,352.60a2.0,2.0 0 1,0 4.0,0a2.0,2.0 0 1,0 -4.0,0 M324.88,351.34a2.0,2.0 0 1,0 4.0,0a2.0,2.0 0 1,0 -4.0,0 M325.59,354.10a2.0,2.0 0 1,0 4.0,0a2.0,2.0 0 1,0 -4.0,0 M326.30,352.71a2.0,2.0 0 1,0 4.0,0a2.0,2.0 0 1,0 -4.0,0 M327.01,353.76a2.0,2.0 0 1,0 4.0,0a2.0,2.0 0 1,0 -4.0,0 M327.72,357.00a2.0,2.0 0 1,0 4.0,0a2.0,2.0 0 1,0 -4.0,0 M328.42,353.72a2.0,2.0 0 1,0 4.0,0a2.0,2.0 0 1,0 -4.0,0 M329.13,353.74a2.0,2.0 0 1,0 4.0,0a2.0,2.0 0 1,0 -4.0,0" fill="#1f3f7d"/>
<circle cx="320.75" cy="341.35" r="2" fill="#1f3f7d"/><circle cx="274.525" cy="349.82" r="2" fill="#1f3f7d"/><circle cx="280.545" cy="349.215" r="2" fill="#1f3f7d"/><circle cx="280.545" cy="335.3" r="2" fill="#1f3f7d"/>
<path d="M221.75,359.50a2.25,2.25 0 1,0 4.5,0a2.25,2.25 0 1,0 -4.5,0 M222.46,358.27a2.25,2.25 0 1,0 4.5,0a2.25,2.25 0 1,0 -4.5,0 M223.17,357.04a2.25,2.25 0 1,0 4.5,0a2.25,2.25 0 1,0 -4.5,0 M223.88,355.81a2.25,2.25 0 1,0 4.5,0a2.25,2.25 0 1,0 -4.5,0 M224.59,354.94a2.25,2.25 0 1,0 4.5,0a2.25,2.25 0 1,0 -4.5,0 M225.30,354.18a2.25,2.25 0 1,0 4.5,0a2.25,2.25 0 1,0 -4.5,0 M226.01,353.43a2.25,2.25 0 1,0 4.5,0a2.25,2.25 0 1,0 -4.5,0 M226.72,352.67a2.25,2.25 0 1,0 4.5,0a2.25,2.25 0 1,0 -4.5,0 M227.43,351.75a2.25,2.25 0 1,0 4.5,0a2.25,2.25 0 1,0 -4.5,0 M228.14,350.59a2.25,2.25 0 1,0 4.5,0a2.25,2.25 0 1,0 -4.5,0 M228.84,350.90a2.25,2.25 0 1,0 4.5,0a2.25,2.25 0 1,0 -4.5,0 M229.55,347.69a2.25,2.25 0 1,0 4.5,0a2.25,2.25 0 1,0 -4.5,0 M230.26,342.35a2.25,2.25 0 1,0 4.5,0a2.25,2.25 0 1,0 -4.5,0 M230.97,338.32a2.25,2.25 0 1,0 4.5,0a2.25,2.25 0 1,0 -4.5,0 M231.68,335.17a2.25,2.25 0 1,0 4.5,0a2.25,2.25 0 1,0 -4.5,0 M232.39,333.25a2.25,2.25 0 1,0 4.5,0a2.25,2.25 0 1,0 -4.5,0 M233.10,330.08a2.25,2.25 0 1,0 4.5,0a2.25,2.25 0 1,0 -4.5,0 M233.81,328.44a2.25,2.25 0 1,0 4.5,0a2.25,2.25 0 1,0 -4.5,0 M234.52,327.24a2.25,2.25 0 1,0 4.5,0a2.25,2.25 0 1,0 -4.5,0 M235.23,322.60a2.25,2.25 0 1,0 4.5,0a2.25,2.25 0 1,0 -4.5,0 M235.94,317.73a2.25,2.25 0 1,0 4.5,0a2.25,2.25 0 1,0 -4.5,0 M236.65,317.67a2.25,2.25 0 1,0 4.5,0a2.25,2.25 0 1,0 -4.5,0 M237.36,317.39a2.25,2.25 0 1,0 4.5,0a2.25,2.25 0 1,0 -4.5,0 M238.07,317.39a2.25,2.25 0 1,0 4.5,0a2.25,2.25 0 1,0 -4.5,0 M238.78,315.93a2.25,2.25 0 1,0 4.5,0a2.25,2.25 0 1,0 -4.5,0 M239.49,316.78a2.25,2.25 0 1,0 4.5,0a2.25,2.25 0 1,0 -4.5,0 M240.20,315.69a2.25,2.25 0 1,0 4.5,0a2.25,2.25 0 1,0 -4.5,0 M240.91,314.19a2.25,2.25 0 1,0 4.5,0a2.25,2.25 0 1,0 -4.5,0 M241.62,320.23a2.25,2.25 0 1,0 4.5,0a2.25,2.25 0 1,0 -4.5,0 M242.33,319.47a2.25,2.25 0 1,0 4.5,0a2.25,2.25 0 1,0 -4.5,0 M243.03,317.45a2.25,2.25 0 1,0 4.5,0a2.25,2.25 0 1,0 -4.5,0 M243.74,311.77a2.25,2.25 0 1,0 4.5,0a2.25,2.25 0 1,0 -4.5,0 M244.45,313.25a2.25,2.25 0 1,0 4.5,0a2.25,2.25 0 1,0 -4.5,0 M245.16,312.14a2.25,2.25 0 1,0 4.5,0a2.25,2.25 0 1,0 -4.5,0 M245.87,315.67a2.25,2.25 0 1,0 4.5,0a2.25,2.25 0 1,0 -4.5,0 M246.58,318.91a2.25,2.25 0 1,0 4.5,0a2.25,2.25 0 1,0 -4.5,0 M247.29,323.83a2.25,2.25 0 1,0 4.5,0a2.25,2.25 0 1,0 -4.5,0 M248.00,327.30a2.25,2.25 0 1,0 4.5,0a2.25,2.25 0 1,0 -4.5,0 M248.71,326.84a2.25,2.25 0 1,0 4.5,0a2.25,2.25 0 1,0 -4.5,0 M249.42,327.13a2.25,2.25 0 1,0 4.5,0a2.25,2.25 0 1,0 -4.5,0 M250.13,328.76a2.25,2.25 0 1,0 4.5,0a2.25,2.25 0 1,0 -4.5,0 M250.84,328.77a2.25,2.25 0 1,0 4.5,0a2.25,2.25 0 1,0 -4.5,0 M251.55,331.23a2.25,2.25 0 1,0 4.5,0a2.25,2.25 0 1,0 -4.5,0 M252.26,328.30a2.25,2.25 0 1,0 4.5,0a2.25,2.25 0 1,0 -4.5,0 M252.97,330.52a2.25,2.25 0 1,0 4.5,0a2.25,2.25 0 1,0 -4.5,0 M253.68,328.87a2.25,2.25 0 1,0 4.5,0a2.25,2.25 0 1,0 -4.5,0 M254.39,332.04a2.25,2.25 0 1,0 4.5,0a2.25,2.25 0 1,0 -4.5,0 M255.10,333.22a2.25,2.25 0 1,0 4.5,0a2.25,2.25 0 1,0 -4.5,0 M255.81,334.62a2.25,2.25 0 1,0 4.5,0a2.25,2.25 0 1,0 -4.5,0 M256.52,332.47a2.25,2.25 0 1,0 4.5,0a2.25,2.25 0 1,0 -4.5,0 M257.23,332.53a2.25,2.25 0 1,0 4.5,0a2.25,2.25 0 1,0 -4.5,0 M257.93,334.36a2.25,2.25 0 1,0 4.5,0a2.25,2.25 0 1,0 -4.5,0 M258.64,334.48a2.25,2.25 0 1,0 4.5,0a2.25,2.25 0 1,0 -4.5,0 M259.35,336.09a2.25,2.25 0 1,0 4.5,0a2.25,2.25 0 1,0 -4.5,0 M260.06,336.86a2.25,2.25 0 1,0 4.5,0a2.25,2.25 0 1,0 -4.5,0 M260.77,337.20a2.25,2.25 0 1,0 4.5,0a2.25,2.25 0 1,0 -4.5,0 M261.48,340.23a2.25,2.25 0 1,0 4.5,0a2.25,2.25 0 1,0 -4.5,0 M262.19,339.41a2.25,2.25 0 1,0 4.5,0a2.25,2.25 0 1,0 -4.5,0 M262.90,338.31a2.25,2.25 0 1,0 4.5,0a2.25,2.25 0 1,0 -4.5,0 M263.61,338.71a2.25,2.25 0 1,0 4.5,0a2.25,2.25 0 1,0 -4.5,0 M264.32,337.75a2.25,2.25 0 1,0 4.5,0a2.25,2.25 0 1,0 -4.5,0 M265.03,338.90a2.25,2.25 0 1,0 4.5,0a2.25,2.25 0 1,0 -4.5,0 M265.74,339.48a2.25,2.25 0 1,0 4.5,0a2.25,2.25 0 1,0 -4.5,0 M266.45,340.33a2.25,2.25 0 1,0 4.5,0a2.25,2.25 0 1,0 -4.5,0 M267.16,344.21a2.25,2.25 0 1,0 4.5,0a2.25,2.25 0 1,0 -4.5,0 M267.87,340.86a2.25,2.25 0 1,0 4.5,0a2.25,2.25 0 1,0 -4.5,0 M268.58,342.58a2.25,2.25 0 1,0 4.5,0a2.25,2.25 0 1,0 -4.5,0 M269.29,340.69a2.25,2.25 0 1,0 4.5,0a2.25,2.25 0 1,0 -4.5,0 M270.00,342.16a2.25,2.25 0 1,0 4.5,0a2.25,2.25 0 1,0 -4.5,0 M270.71,342.51a2.25,2.25 0 1,0 4.5,0a2.25,2.25 0 1,0 -4.5,0 M271.41,343.09a2.25,2.25 0 1,0 4.5,0a2.25,2.25 0 1,0 -4.5,0 M272.12,343.03a2.25,2.25 0 1,0 4.5,0a2.25,2.25 0 1,0 -4.5,0 M272.83,346.00a2.25,2.25 0 1,0 4.5,0a2.25,2.25 0 1,0 -4.5,0 M273.54,345.80a2.25,2.25 0 1,0 4.5,0a2.25,2.25 0 1,0 -4.5,0 M274.25,341.76a2.25,2.25 0 1,0 4.5,0a2.25,2.25 0 1,0 -4.5,0 M274.96,343.34a2.25,2.25 0 1,0 4.5,0a2.25,2.25 0 1,0 -4.5,0 M275.67,345.07a2.25,2.25 0 1,0 4.5,0a2.25,2.25 0 1,0 -4.5,0 M276.38,345.29a2.25,2.25 0 1,0 4.5,0a2.25,2.25 0 1,0 -4.5,0 M277.09,345.68a2.25,2.25 0 1,0 4.5,0a2.25,2.25 0 1,0 -4.5,0 M277.80,340.38a2.25,2.25 0 1,0 4.5,0a2.25,2.25 0 1,0 -4.5,0 M278.51,344.98a2.25,2.25 0 1,0 4.5,0a2.25,2.25 0 1,0 -4.5,0 M279.22,346.05a2.25,2.25 0 1,0 4.5,0a2.25,2.25 0 1,0 -4.5,0 M279.93,347.36a2.25,2.25 0 1,0 4.5,0a2.25,2.25 0 1,0 -4.5,0 M280.64,350.26a2.25,2.25 0 1,0 4.5,0a2.25,2.25 0 1,0 -4.5,0 M281.35,346.63a2.25,2.25 0 1,0 4.5,0a2.25,2.25 0 1,0 -4.5,0 M282.06,344.91a2.25,2.25 0 1,0 4.5,0a2.25,2.25 0 1,0 -4.5,0 M282.77,345.87a2.25,2.25 0 1,0 4.5,0a2.25,2.25 0 1,0 -4.5,0 M283.48,347.17a2.25,2.25 0 1,0 4.5,0a2.25,2.25 0 1,0 -4.5,0 M284.19,348.80a2.25,2.25 0 1,0 4.5,0a2.25,2.25 0 1,0 -4.5,0 M284.90,349.95a2.25,2.25 0 1,0 4.5,0a2.25,2.25 0 1,0 -4.5,0 M285.60,348.24a2.25,2.25 0 1,0 4.5,0a2.25,2.25 0 1,0 -4.5,0 M286.31,349.26a2.25,2.25 0 1,0 4.5,0a2.25,2.25 0 1,0 -4.5,0 M287.02,350.61a2.25,2.25 0 1,0 4.5,0a2.25,2.25 0 1,0 -4.5,0 M287.73,346.40a2.25,2.25 0 1,0 4.5,0a2.25,2.25 0 1,0 -4.5,0 M288.44,350.63a2.25,2.25 0 1,0 4.5,0a2.25,2.25 0 1,0 -4.5,0 M289.15,350.18a2.25,2.25 0 1,0 4.5,0a2.25,2.25 0 1,0 -4.5,0 M289.86,353.23a2.25,2.25 0 1,0 4.5,0a2.25,2.25 0 1,0 -4.5,0 M290.57,346.99a2.25,2.25 0 1,0 4.5,0a2.25,2.25 0 1,0 -4.5,0 M291.28,350.08a2.25,2.25 0 1,0 4.5,0a2.25,2.25 0 1,0 -4.5,0 M291.99,350.11a2.25,2.25 0 1,0 4.5,0a2.25,2.25 0 1,0 -4.5,0 M292.70,349.71a2.25,2.25 0 1,0 4.5,0a2.25,2.25 0 1,0 -4.5,0 M293.41,351.65a2.25,2.25 0 1,0 4.5,0a2.25,2.25 0 1,0 -4.5,0 M294.12,351.47a2.25,2.25 0 1,0 4.5,0a2.25,2.25 0 1,0 -4.5,0 M294.83,350.20a2.25,2.25 0 1,0 4.5,0a2.25,2.25 0 1,0 -4.5,0 M295.54,352.12a2.25,2.25 0 1,0 4.5,0a2.25,2.25 0 1,0 -4.5,0 M296.25,350.49a2.25,2.25 0 1,0 4.5,0a2.25,2.25 0 1,0 -4.5,0 M296.96,349.26a2.25,2.25 0 1,0 4.5,0a2.25,2.25 0 1,0 -4.5,0 M297.67,350.13a2.25,2.25 0 1,0 4.5,0a2.25,2.25 0 1,0 -4.5,0 M298.38,349.28a2.25,2.25 0 1,0 4.5,0a2.25,2.25 0 1,0 -4.5,0 M299.09,349.98a2.25,2.25 0 1,0 4.5,0a2.25,2.25 0 1,0 -4.5,0 M299.79,349.10a2.25,2.25 0 1,0 4.5,0a2.25,2.25 0 1,0 -4.5,0 M300.50,351.54a2.25,2.25 0 1,0 4.5,0a2.25,2.25 0 1,0 -4.5,0 M301.21,351.49a2.25,2.25 0 1,0 4.5,0a2.25,2.25 0 1,0 -4.5,0 M301.92,354.03a2.25,2.25 0 1,0 4.5,0a2.25,2.25 0 1,0 -4.5,0 M302.63,352.71a2.25,2.25 0 1,0 4.5,0a2.25,2.25 0 1,0 -4.5,0 M303.34,353.63a2.25,2.25 0 1,0 4.5,0a2.25,2.25 0 1,0 -4.5,0 M304.05,352.69a2.25,2.25 0 1,0 4.5,0a2.25,2.25 0 1,0 -4.5,0 M304.76,354.28a2.25,2.25 0 1,0 4.5,0a2.25,2.25 0 1,0 -4.5,0 M305.47,352.22a2.25,2.25 0 1,0 4.5,0a2.25,2.25 0 1,0 -4.5,0 M306.18,348.75a2.25,2.25 0 1,0 4.5,0a2.25,2.25 0 1,0 -4.5,0 M306.89,354.09a2.25,2.25 0 1,0 4.5,0a2.25,2.25 0 1,0 -4.5,0 M307.60,352.04a2.25,2.25 0 1,0 4.5,0a2.25,2.25 0 1,0 -4.5,0 M308.31,352.04a2.25,2.25 0 1,0 4.5,0a2.25,2.25 0 1,0 -4.5,0 M309.02,354.24a2.25,2.25 0 1,0 4.5,0a2.25,2.25 0 1,0 -4.5,0 M309.73,353.62a2.25,2.25 0 1,0 4.5,0a2.25,2.25 0 1,0 -4.5,0 M310.44,354.06a2.25,2.25 0 1,0 4.5,0a2.25,2.25 0 1,0 -4.5,0 M311.15,352.62a2.25,2.25 0 1,0 4.5,0a2.25,2.25 0 1,0 -4.5,0 M311.86,354.38a2.25,2.25 0 1,0 4.5,0a2.25,2.25 0 1,0 -4.5,0 M312.57,349.37a2.25,2.25 0 1,0 4.5,0a2.25,2.25 0 1,0 -4.5,0 M313.28,352.18a2.25,2.25 0 1,0 4.5,0a2.25,2.25 0 1,0 -4.5,0 M313.98,351.81a2.25,2.25 0 1,0 4.5,0a2.25,2.25 0 1,0 -4.5,0 M314.69,350.29a2.25,2.25 0 1,0 4.5,0a2.25,2.25 0 1,0 -4.5,0 M315.40,351.59a2.25,2.25 0 1,0 4.5,0a2.25,2.25 0 1,0 -4.5,0 M316.11,353.99a2.25,2.25 0 1,0 4.5,0a2.25,2.25 0 1,0 -4.5,0 M316.82,353.33a2.25,2.25 0 1,0 4.5,0a2.25,2.25 0 1,0 -4.5,0 M317.53,353.91a2.25,2.25 0 1,0 4.5,0a2.25,2.25 0 1,0 -4.5,0 M318.24,353.63a2.25,2.25 0 1,0 4.5,0a2.25,2.25 0 1,0 -4.5,0 M318.95,352.65a2.25,2.25 0 1,0 4.5,0a2.25,2.25 0 1,0 -4.5,0 M319.66,357.45a2.25,2.25 0 1,0 4.5,0a2.25,2.25 0 1,0 -4.5,0 M320.37,357.12a2.25,2.25 0 1,0 4.5,0a2.25,2.25 0 1,0 -4.5,0 M321.08,355.16a2.25,2.25 0 1,0 4.5,0a2.25,2.25 0 1,0 -4.5,0 M321.79,354.11a2.25,2.25 0 1,0 4.5,0a2.25,2.25 0 1,0 -4.5,0 M322.50,355.75a2.25,2.25 0 1,0 4.5,0a2.25,2.25 0 1,0 -4.5,0 M323.21,355.44a2.25,2.25 0 1,0 4.5,0a2.25,2.25 0 1,0 -4.5,0 M323.92,353.56a2.25,2.25 0 1,0 4.5,0a2.25,2.25 0 1,0 -4.5,0 M324.63,354.40a2.25,2.25 0 1,0 4.5,0a2.25,2.25 0 1,0 -4.5,0 M325.34,355.79a2.25,2.25 0 1,0 4.5,0a2.25,2.25 0 1,0 -4.5,0 M326.05,356.30a2.25,2.25 0 1,0 4.5,0a2.25,2.25 0 1,0 -4.5,0 M326.76,358.25a2.25,2.25 0 1,0 4.5,0a2.25,2.25 0 1,0 -4.5,0 M327.47,355.34a2.25,2.25 0 1,0 4.5,0a2.25,2.25 0 1,0 -4.5,0 M328.17,356.10a2.25,2.25 0 1,0 4.5,0a2.25,2.25 0 1,0 -4.5,0 M328.88,357.93a2.25,2.25 0 1,0 4.5,0a2.25,2.25 0 1,0 -4.5,0" fill="#b1123c"/>
<text transform="translate(260.92,387.20) scale(0.8137,1)" font-size="10.00" font-weight="normal" font-style="normal" fill="#231f20" stroke="#231f20" stroke-width="0.12">Time (min)</text>
<text transform="translate(203.20,345.58) rotate(-90) scale(0.8195,1)" font-size="10.00" fill="#231f20" stroke="#231f20" stroke-width="0.12">Plasmin (nM)</text>
<text transform="translate(268.12,292.90) scale(0.9201,1)" font-size="8.50" font-weight="normal" font-style="normal" fill="#231f20" stroke="#231f20" stroke-width="0.12">Total PAI-1 (µg/mL)</text>
<line x1="287.1" y1="300.5" x2="295.1" y2="300.5" stroke="#b1123c" stroke-width="1.1" />
<circle cx="291.1" cy="300.5" r="2.1" fill="#b1123c"/>
<text transform="translate(297.54,303.62) scale(1.0000,1)" font-size="8.90" font-weight="normal" font-style="normal" fill="#231f20" stroke="#231f20" stroke-width="0.12">0</text>
<line x1="287.1" y1="308.3" x2="295.1" y2="308.3" stroke="#1f3f7d" stroke-width="1.1" />
<circle cx="291.1" cy="308.3" r="2.1" fill="#1f3f7d"/>
<text transform="translate(297.54,311.42) scale(1.0000,1)" font-size="8.90" font-weight="normal" font-style="normal" fill="#231f20" stroke="#231f20" stroke-width="0.12">0.2</text>
<line x1="287.1" y1="316.7" x2="295.1" y2="316.7" stroke="#4d68a3" stroke-width="1.1" />
<circle cx="291.1" cy="316.7" r="2.1" fill="#4d68a3"/>
<text transform="translate(297.54,319.81) scale(1.0000,1)" font-size="8.90" font-weight="normal" font-style="normal" fill="#231f20" stroke="#231f20" stroke-width="0.12">0.4</text>
<line x1="287.1" y1="324.6" x2="295.1" y2="324.6" stroke="#949fc9" stroke-width="1.1" />
<circle cx="291.1" cy="324.6" r="2.1" fill="#949fc9"/>
<text transform="translate(297.54,327.72) scale(1.0000,1)" font-size="8.90" font-weight="normal" font-style="normal" fill="#231f20" stroke="#231f20" stroke-width="0.12">0.8</text>
<line x1="287.1" y1="333.0" x2="295.1" y2="333.0" stroke="#cdd2e8" stroke-width="1.1" />
<circle cx="291.1" cy="333.0" r="2.1" fill="#cdd2e8"/>
<text transform="translate(297.23,336.12) scale(1.0000,1)" font-size="8.90" font-weight="normal" font-style="normal" fill="#231f20" stroke="#231f20" stroke-width="0.12">1.6</text>
<text transform="translate(352.26,276.80) scale(1.2552,1)" font-size="12.30" font-weight="bold" font-style="normal" fill="#000" stroke="#000" stroke-width="0.12">I</text>
<line x1="399.6" y1="282.9" x2="399.6" y2="359.1" stroke="#231f20" stroke-width="1.4" />
<line x1="396.6" y1="285.9" x2="399.6" y2="285.9" stroke="#231f20" stroke-width="1.1" />
<text transform="translate(385.10,288.80) scale(1.0000,1)" font-size="8.30" font-weight="normal" font-style="normal" fill="#231f20" stroke="#231f20" stroke-width="0.12">60</text>
<line x1="396.6" y1="310.3" x2="399.6" y2="310.3" stroke="#231f20" stroke-width="1.1" />
<text transform="translate(385.10,313.20) scale(1.0000,1)" font-size="8.30" font-weight="normal" font-style="normal" fill="#231f20" stroke="#231f20" stroke-width="0.12">40</text>
<line x1="396.6" y1="334.6" x2="399.6" y2="334.6" stroke="#231f20" stroke-width="1.1" />
<text transform="translate(385.10,337.50) scale(1.0000,1)" font-size="8.30" font-weight="normal" font-style="normal" fill="#231f20" stroke="#231f20" stroke-width="0.12">20</text>
<line x1="396.6" y1="358.5" x2="399.6" y2="358.5" stroke="#231f20" stroke-width="1.1" />
<text transform="translate(389.70,361.40) scale(1.0000,1)" font-size="8.30" font-weight="normal" font-style="normal" fill="#231f20" stroke="#231f20" stroke-width="0.12">0</text>
<line x1="397" y1="358.7" x2="510.3" y2="358.7" stroke="#231f20" stroke-width="1.3" />
<line x1="399.6" y1="358.9" x2="399.6" y2="362" stroke="#231f20" stroke-width="1.1" />
<text transform="translate(397.29,372.20) scale(1.0000,1)" font-size="8.30" font-weight="normal" font-style="normal" fill="#231f20" stroke="#231f20" stroke-width="0.12">0</text>
<line x1="421.6" y1="358.9" x2="421.6" y2="362" stroke="#231f20" stroke-width="1.1" />
<text transform="translate(416.84,372.20) scale(1.0000,1)" font-size="8.30" font-weight="normal" font-style="normal" fill="#231f20" stroke="#231f20" stroke-width="0.12">10</text>
<line x1="443.2" y1="358.9" x2="443.2" y2="362" stroke="#231f20" stroke-width="1.1" />
<text transform="translate(438.54,372.20) scale(1.0000,1)" font-size="8.30" font-weight="normal" font-style="normal" fill="#231f20" stroke="#231f20" stroke-width="0.12">20</text>
<line x1="464.5" y1="358.9" x2="464.5" y2="362" stroke="#231f20" stroke-width="1.1" />
<text transform="translate(459.89,372.20) scale(1.0000,1)" font-size="8.30" font-weight="normal" font-style="normal" fill="#231f20" stroke="#231f20" stroke-width="0.12">30</text>
<line x1="486.4" y1="358.9" x2="486.4" y2="362" stroke="#231f20" stroke-width="1.1" />
<text transform="translate(481.86,372.20) scale(1.0000,1)" font-size="8.30" font-weight="normal" font-style="normal" fill="#231f20" stroke="#231f20" stroke-width="0.12">40</text>
<line x1="507.8" y1="358.9" x2="507.8" y2="362" stroke="#231f20" stroke-width="1.1" />
<text transform="translate(503.18,372.20) scale(1.0000,1)" font-size="8.30" font-weight="normal" font-style="normal" fill="#231f20" stroke="#231f20" stroke-width="0.12">50</text>
<path d="M397.70,356.82a1.8,1.8 0 1,0 3.6,0a1.8,1.8 0 1,0 -3.6,0 M398.41,356.50a1.8,1.8 0 1,0 3.6,0a1.8,1.8 0 1,0 -3.6,0 M399.13,356.19a1.8,1.8 0 1,0 3.6,0a1.8,1.8 0 1,0 -3.6,0 M399.84,355.87a1.8,1.8 0 1,0 3.6,0a1.8,1.8 0 1,0 -3.6,0 M400.56,355.55a1.8,1.8 0 1,0 3.6,0a1.8,1.8 0 1,0 -3.6,0 M401.27,355.24a1.8,1.8 0 1,0 3.6,0a1.8,1.8 0 1,0 -3.6,0 M401.99,354.92a1.8,1.8 0 1,0 3.6,0a1.8,1.8 0 1,0 -3.6,0 M402.70,353.57a1.8,1.8 0 1,0 3.6,0a1.8,1.8 0 1,0 -3.6,0 M403.42,352.16a1.8,1.8 0 1,0 3.6,0a1.8,1.8 0 1,0 -3.6,0 M404.13,350.74a1.8,1.8 0 1,0 3.6,0a1.8,1.8 0 1,0 -3.6,0 M404.85,349.04a1.8,1.8 0 1,0 3.6,0a1.8,1.8 0 1,0 -3.6,0 M405.56,347.46a1.8,1.8 0 1,0 3.6,0a1.8,1.8 0 1,0 -3.6,0 M406.28,345.33a1.8,1.8 0 1,0 3.6,0a1.8,1.8 0 1,0 -3.6,0 M406.99,344.20a1.8,1.8 0 1,0 3.6,0a1.8,1.8 0 1,0 -3.6,0 M407.71,339.91a1.8,1.8 0 1,0 3.6,0a1.8,1.8 0 1,0 -3.6,0 M408.42,336.33a1.8,1.8 0 1,0 3.6,0a1.8,1.8 0 1,0 -3.6,0 M409.14,330.23a1.8,1.8 0 1,0 3.6,0a1.8,1.8 0 1,0 -3.6,0 M409.85,329.85a1.8,1.8 0 1,0 3.6,0a1.8,1.8 0 1,0 -3.6,0 M410.57,317.33a1.8,1.8 0 1,0 3.6,0a1.8,1.8 0 1,0 -3.6,0 M411.28,324.98a1.8,1.8 0 1,0 3.6,0a1.8,1.8 0 1,0 -3.6,0 M412.00,315.55a1.8,1.8 0 1,0 3.6,0a1.8,1.8 0 1,0 -3.6,0 M412.71,313.83a1.8,1.8 0 1,0 3.6,0a1.8,1.8 0 1,0 -3.6,0 M413.43,315.89a1.8,1.8 0 1,0 3.6,0a1.8,1.8 0 1,0 -3.6,0 M414.14,316.91a1.8,1.8 0 1,0 3.6,0a1.8,1.8 0 1,0 -3.6,0 M414.85,315.44a1.8,1.8 0 1,0 3.6,0a1.8,1.8 0 1,0 -3.6,0 M415.57,313.62a1.8,1.8 0 1,0 3.6,0a1.8,1.8 0 1,0 -3.6,0 M416.28,312.15a1.8,1.8 0 1,0 3.6,0a1.8,1.8 0 1,0 -3.6,0 M417.00,317.26a1.8,1.8 0 1,0 3.6,0a1.8,1.8 0 1,0 -3.6,0 M417.71,312.74a1.8,1.8 0 1,0 3.6,0a1.8,1.8 0 1,0 -3.6,0 M418.43,313.12a1.8,1.8 0 1,0 3.6,0a1.8,1.8 0 1,0 -3.6,0 M419.14,308.45a1.8,1.8 0 1,0 3.6,0a1.8,1.8 0 1,0 -3.6,0 M419.86,310.23a1.8,1.8 0 1,0 3.6,0a1.8,1.8 0 1,0 -3.6,0 M420.57,308.28a1.8,1.8 0 1,0 3.6,0a1.8,1.8 0 1,0 -3.6,0 M421.29,308.81a1.8,1.8 0 1,0 3.6,0a1.8,1.8 0 1,0 -3.6,0 M422.00,313.97a1.8,1.8 0 1,0 3.6,0a1.8,1.8 0 1,0 -3.6,0 M422.72,315.28a1.8,1.8 0 1,0 3.6,0a1.8,1.8 0 1,0 -3.6,0 M423.43,319.70a1.8,1.8 0 1,0 3.6,0a1.8,1.8 0 1,0 -3.6,0 M424.15,321.13a1.8,1.8 0 1,0 3.6,0a1.8,1.8 0 1,0 -3.6,0 M424.86,326.64a1.8,1.8 0 1,0 3.6,0a1.8,1.8 0 1,0 -3.6,0 M425.58,325.56a1.8,1.8 0 1,0 3.6,0a1.8,1.8 0 1,0 -3.6,0 M426.29,325.93a1.8,1.8 0 1,0 3.6,0a1.8,1.8 0 1,0 -3.6,0 M427.01,327.35a1.8,1.8 0 1,0 3.6,0a1.8,1.8 0 1,0 -3.6,0 M427.72,322.75a1.8,1.8 0 1,0 3.6,0a1.8,1.8 0 1,0 -3.6,0 M428.44,332.42a1.8,1.8 0 1,0 3.6,0a1.8,1.8 0 1,0 -3.6,0 M429.15,332.96a1.8,1.8 0 1,0 3.6,0a1.8,1.8 0 1,0 -3.6,0 M429.87,328.72a1.8,1.8 0 1,0 3.6,0a1.8,1.8 0 1,0 -3.6,0 M430.58,328.61a1.8,1.8 0 1,0 3.6,0a1.8,1.8 0 1,0 -3.6,0 M431.29,330.20a1.8,1.8 0 1,0 3.6,0a1.8,1.8 0 1,0 -3.6,0 M432.01,328.85a1.8,1.8 0 1,0 3.6,0a1.8,1.8 0 1,0 -3.6,0 M432.72,327.64a1.8,1.8 0 1,0 3.6,0a1.8,1.8 0 1,0 -3.6,0 M433.44,333.42a1.8,1.8 0 1,0 3.6,0a1.8,1.8 0 1,0 -3.6,0 M434.15,335.81a1.8,1.8 0 1,0 3.6,0a1.8,1.8 0 1,0 -3.6,0 M434.87,334.00a1.8,1.8 0 1,0 3.6,0a1.8,1.8 0 1,0 -3.6,0 M435.58,331.70a1.8,1.8 0 1,0 3.6,0a1.8,1.8 0 1,0 -3.6,0 M436.30,333.62a1.8,1.8 0 1,0 3.6,0a1.8,1.8 0 1,0 -3.6,0 M437.01,335.25a1.8,1.8 0 1,0 3.6,0a1.8,1.8 0 1,0 -3.6,0 M437.73,334.63a1.8,1.8 0 1,0 3.6,0a1.8,1.8 0 1,0 -3.6,0 M438.44,335.07a1.8,1.8 0 1,0 3.6,0a1.8,1.8 0 1,0 -3.6,0 M439.16,339.48a1.8,1.8 0 1,0 3.6,0a1.8,1.8 0 1,0 -3.6,0 M439.87,335.54a1.8,1.8 0 1,0 3.6,0a1.8,1.8 0 1,0 -3.6,0 M440.59,338.49a1.8,1.8 0 1,0 3.6,0a1.8,1.8 0 1,0 -3.6,0 M441.30,337.71a1.8,1.8 0 1,0 3.6,0a1.8,1.8 0 1,0 -3.6,0 M442.02,338.66a1.8,1.8 0 1,0 3.6,0a1.8,1.8 0 1,0 -3.6,0 M442.73,337.86a1.8,1.8 0 1,0 3.6,0a1.8,1.8 0 1,0 -3.6,0 M443.45,336.54a1.8,1.8 0 1,0 3.6,0a1.8,1.8 0 1,0 -3.6,0 M444.16,339.21a1.8,1.8 0 1,0 3.6,0a1.8,1.8 0 1,0 -3.6,0 M444.88,338.88a1.8,1.8 0 1,0 3.6,0a1.8,1.8 0 1,0 -3.6,0 M445.59,337.78a1.8,1.8 0 1,0 3.6,0a1.8,1.8 0 1,0 -3.6,0 M446.31,339.07a1.8,1.8 0 1,0 3.6,0a1.8,1.8 0 1,0 -3.6,0 M447.02,341.72a1.8,1.8 0 1,0 3.6,0a1.8,1.8 0 1,0 -3.6,0 M447.73,339.18a1.8,1.8 0 1,0 3.6,0a1.8,1.8 0 1,0 -3.6,0 M448.45,341.99a1.8,1.8 0 1,0 3.6,0a1.8,1.8 0 1,0 -3.6,0 M449.16,342.12a1.8,1.8 0 1,0 3.6,0a1.8,1.8 0 1,0 -3.6,0 M449.88,341.50a1.8,1.8 0 1,0 3.6,0a1.8,1.8 0 1,0 -3.6,0 M450.59,339.17a1.8,1.8 0 1,0 3.6,0a1.8,1.8 0 1,0 -3.6,0 M451.31,344.18a1.8,1.8 0 1,0 3.6,0a1.8,1.8 0 1,0 -3.6,0 M452.02,343.50a1.8,1.8 0 1,0 3.6,0a1.8,1.8 0 1,0 -3.6,0 M452.74,342.68a1.8,1.8 0 1,0 3.6,0a1.8,1.8 0 1,0 -3.6,0 M453.45,344.96a1.8,1.8 0 1,0 3.6,0a1.8,1.8 0 1,0 -3.6,0 M454.17,343.27a1.8,1.8 0 1,0 3.6,0a1.8,1.8 0 1,0 -3.6,0 M454.88,341.26a1.8,1.8 0 1,0 3.6,0a1.8,1.8 0 1,0 -3.6,0 M455.60,347.60a1.8,1.8 0 1,0 3.6,0a1.8,1.8 0 1,0 -3.6,0 M456.31,344.24a1.8,1.8 0 1,0 3.6,0a1.8,1.8 0 1,0 -3.6,0 M457.03,345.99a1.8,1.8 0 1,0 3.6,0a1.8,1.8 0 1,0 -3.6,0 M457.74,340.75a1.8,1.8 0 1,0 3.6,0a1.8,1.8 0 1,0 -3.6,0 M458.46,343.89a1.8,1.8 0 1,0 3.6,0a1.8,1.8 0 1,0 -3.6,0 M459.17,344.14a1.8,1.8 0 1,0 3.6,0a1.8,1.8 0 1,0 -3.6,0 M459.89,345.85a1.8,1.8 0 1,0 3.6,0a1.8,1.8 0 1,0 -3.6,0 M460.60,347.93a1.8,1.8 0 1,0 3.6,0a1.8,1.8 0 1,0 -3.6,0 M461.32,345.99a1.8,1.8 0 1,0 3.6,0a1.8,1.8 0 1,0 -3.6,0 M462.03,345.70a1.8,1.8 0 1,0 3.6,0a1.8,1.8 0 1,0 -3.6,0 M462.74,346.61a1.8,1.8 0 1,0 3.6,0a1.8,1.8 0 1,0 -3.6,0 M463.46,343.36a1.8,1.8 0 1,0 3.6,0a1.8,1.8 0 1,0 -3.6,0 M464.17,345.65a1.8,1.8 0 1,0 3.6,0a1.8,1.8 0 1,0 -3.6,0 M464.89,349.25a1.8,1.8 0 1,0 3.6,0a1.8,1.8 0 1,0 -3.6,0 M465.60,348.49a1.8,1.8 0 1,0 3.6,0a1.8,1.8 0 1,0 -3.6,0 M466.32,347.40a1.8,1.8 0 1,0 3.6,0a1.8,1.8 0 1,0 -3.6,0 M467.03,350.64a1.8,1.8 0 1,0 3.6,0a1.8,1.8 0 1,0 -3.6,0 M467.75,348.89a1.8,1.8 0 1,0 3.6,0a1.8,1.8 0 1,0 -3.6,0 M468.46,350.02a1.8,1.8 0 1,0 3.6,0a1.8,1.8 0 1,0 -3.6,0 M469.18,348.68a1.8,1.8 0 1,0 3.6,0a1.8,1.8 0 1,0 -3.6,0 M469.89,349.36a1.8,1.8 0 1,0 3.6,0a1.8,1.8 0 1,0 -3.6,0 M470.61,351.47a1.8,1.8 0 1,0 3.6,0a1.8,1.8 0 1,0 -3.6,0 M471.32,348.28a1.8,1.8 0 1,0 3.6,0a1.8,1.8 0 1,0 -3.6,0 M472.04,352.57a1.8,1.8 0 1,0 3.6,0a1.8,1.8 0 1,0 -3.6,0 M472.75,350.65a1.8,1.8 0 1,0 3.6,0a1.8,1.8 0 1,0 -3.6,0 M473.47,354.67a1.8,1.8 0 1,0 3.6,0a1.8,1.8 0 1,0 -3.6,0 M474.18,355.09a1.8,1.8 0 1,0 3.6,0a1.8,1.8 0 1,0 -3.6,0 M474.90,355.02a1.8,1.8 0 1,0 3.6,0a1.8,1.8 0 1,0 -3.6,0 M475.61,355.18a1.8,1.8 0 1,0 3.6,0a1.8,1.8 0 1,0 -3.6,0 M476.33,353.34a1.8,1.8 0 1,0 3.6,0a1.8,1.8 0 1,0 -3.6,0 M477.04,358.50a1.8,1.8 0 1,0 3.6,0a1.8,1.8 0 1,0 -3.6,0 M477.76,352.85a1.8,1.8 0 1,0 3.6,0a1.8,1.8 0 1,0 -3.6,0" fill="#b1123c"/>
<line x1="423.9758" y1="311.7" x2="423.9758" y2="336.9" stroke="#1f3f7d" stroke-width="0.9" />
<path d="M397.40,356.70a2.1,2.1 0 1,0 4.2,0a2.1,2.1 0 1,0 -4.2,0 M398.11,356.20a2.1,2.1 0 1,0 4.2,0a2.1,2.1 0 1,0 -4.2,0 M398.83,355.71a2.1,2.1 0 1,0 4.2,0a2.1,2.1 0 1,0 -4.2,0 M399.54,355.21a2.1,2.1 0 1,0 4.2,0a2.1,2.1 0 1,0 -4.2,0 M400.26,354.72a2.1,2.1 0 1,0 4.2,0a2.1,2.1 0 1,0 -4.2,0 M400.97,354.23a2.1,2.1 0 1,0 4.2,0a2.1,2.1 0 1,0 -4.2,0 M401.69,353.73a2.1,2.1 0 1,0 4.2,0a2.1,2.1 0 1,0 -4.2,0 M402.40,352.90a2.1,2.1 0 1,0 4.2,0a2.1,2.1 0 1,0 -4.2,0 M403.12,352.05a2.1,2.1 0 1,0 4.2,0a2.1,2.1 0 1,0 -4.2,0 M403.83,351.21a2.1,2.1 0 1,0 4.2,0a2.1,2.1 0 1,0 -4.2,0 M404.55,348.02a2.1,2.1 0 1,0 4.2,0a2.1,2.1 0 1,0 -4.2,0 M405.26,346.99a2.1,2.1 0 1,0 4.2,0a2.1,2.1 0 1,0 -4.2,0 M405.98,349.68a2.1,2.1 0 1,0 4.2,0a2.1,2.1 0 1,0 -4.2,0 M406.69,348.97a2.1,2.1 0 1,0 4.2,0a2.1,2.1 0 1,0 -4.2,0 M407.41,343.14a2.1,2.1 0 1,0 4.2,0a2.1,2.1 0 1,0 -4.2,0 M408.12,338.32a2.1,2.1 0 1,0 4.2,0a2.1,2.1 0 1,0 -4.2,0 M408.84,336.89a2.1,2.1 0 1,0 4.2,0a2.1,2.1 0 1,0 -4.2,0 M409.55,336.09a2.1,2.1 0 1,0 4.2,0a2.1,2.1 0 1,0 -4.2,0 M410.27,330.60a2.1,2.1 0 1,0 4.2,0a2.1,2.1 0 1,0 -4.2,0 M410.98,324.89a2.1,2.1 0 1,0 4.2,0a2.1,2.1 0 1,0 -4.2,0 M411.70,328.67a2.1,2.1 0 1,0 4.2,0a2.1,2.1 0 1,0 -4.2,0 M412.41,322.38a2.1,2.1 0 1,0 4.2,0a2.1,2.1 0 1,0 -4.2,0 M413.13,321.76a2.1,2.1 0 1,0 4.2,0a2.1,2.1 0 1,0 -4.2,0 M413.84,320.21a2.1,2.1 0 1,0 4.2,0a2.1,2.1 0 1,0 -4.2,0 M414.55,318.75a2.1,2.1 0 1,0 4.2,0a2.1,2.1 0 1,0 -4.2,0 M415.27,321.60a2.1,2.1 0 1,0 4.2,0a2.1,2.1 0 1,0 -4.2,0 M415.98,321.11a2.1,2.1 0 1,0 4.2,0a2.1,2.1 0 1,0 -4.2,0 M416.70,317.75a2.1,2.1 0 1,0 4.2,0a2.1,2.1 0 1,0 -4.2,0 M417.41,321.66a2.1,2.1 0 1,0 4.2,0a2.1,2.1 0 1,0 -4.2,0 M418.13,321.19a2.1,2.1 0 1,0 4.2,0a2.1,2.1 0 1,0 -4.2,0 M418.84,322.55a2.1,2.1 0 1,0 4.2,0a2.1,2.1 0 1,0 -4.2,0 M419.56,320.23a2.1,2.1 0 1,0 4.2,0a2.1,2.1 0 1,0 -4.2,0 M420.27,317.21a2.1,2.1 0 1,0 4.2,0a2.1,2.1 0 1,0 -4.2,0 M420.99,314.75a2.1,2.1 0 1,0 4.2,0a2.1,2.1 0 1,0 -4.2,0 M421.70,314.41a2.1,2.1 0 1,0 4.2,0a2.1,2.1 0 1,0 -4.2,0 M422.42,315.33a2.1,2.1 0 1,0 4.2,0a2.1,2.1 0 1,0 -4.2,0 M423.13,317.07a2.1,2.1 0 1,0 4.2,0a2.1,2.1 0 1,0 -4.2,0 M423.85,319.20a2.1,2.1 0 1,0 4.2,0a2.1,2.1 0 1,0 -4.2,0 M424.56,319.49a2.1,2.1 0 1,0 4.2,0a2.1,2.1 0 1,0 -4.2,0 M425.28,322.74a2.1,2.1 0 1,0 4.2,0a2.1,2.1 0 1,0 -4.2,0 M425.99,321.45a2.1,2.1 0 1,0 4.2,0a2.1,2.1 0 1,0 -4.2,0 M426.71,324.68a2.1,2.1 0 1,0 4.2,0a2.1,2.1 0 1,0 -4.2,0 M427.42,328.64a2.1,2.1 0 1,0 4.2,0a2.1,2.1 0 1,0 -4.2,0 M428.14,329.07a2.1,2.1 0 1,0 4.2,0a2.1,2.1 0 1,0 -4.2,0 M428.85,327.87a2.1,2.1 0 1,0 4.2,0a2.1,2.1 0 1,0 -4.2,0 M429.57,328.96a2.1,2.1 0 1,0 4.2,0a2.1,2.1 0 1,0 -4.2,0 M430.28,330.98a2.1,2.1 0 1,0 4.2,0a2.1,2.1 0 1,0 -4.2,0 M430.99,330.70a2.1,2.1 0 1,0 4.2,0a2.1,2.1 0 1,0 -4.2,0 M431.71,329.48a2.1,2.1 0 1,0 4.2,0a2.1,2.1 0 1,0 -4.2,0 M432.42,329.65a2.1,2.1 0 1,0 4.2,0a2.1,2.1 0 1,0 -4.2,0 M433.14,329.38a2.1,2.1 0 1,0 4.2,0a2.1,2.1 0 1,0 -4.2,0 M433.85,333.22a2.1,2.1 0 1,0 4.2,0a2.1,2.1 0 1,0 -4.2,0 M434.57,331.44a2.1,2.1 0 1,0 4.2,0a2.1,2.1 0 1,0 -4.2,0 M435.28,330.78a2.1,2.1 0 1,0 4.2,0a2.1,2.1 0 1,0 -4.2,0 M436.00,332.64a2.1,2.1 0 1,0 4.2,0a2.1,2.1 0 1,0 -4.2,0 M436.71,330.24a2.1,2.1 0 1,0 4.2,0a2.1,2.1 0 1,0 -4.2,0 M437.43,334.78a2.1,2.1 0 1,0 4.2,0a2.1,2.1 0 1,0 -4.2,0 M438.14,334.18a2.1,2.1 0 1,0 4.2,0a2.1,2.1 0 1,0 -4.2,0 M438.86,334.12a2.1,2.1 0 1,0 4.2,0a2.1,2.1 0 1,0 -4.2,0 M439.57,335.51a2.1,2.1 0 1,0 4.2,0a2.1,2.1 0 1,0 -4.2,0 M440.29,335.13a2.1,2.1 0 1,0 4.2,0a2.1,2.1 0 1,0 -4.2,0 M441.00,334.88a2.1,2.1 0 1,0 4.2,0a2.1,2.1 0 1,0 -4.2,0 M441.72,335.67a2.1,2.1 0 1,0 4.2,0a2.1,2.1 0 1,0 -4.2,0 M442.43,336.85a2.1,2.1 0 1,0 4.2,0a2.1,2.1 0 1,0 -4.2,0 M443.15,337.03a2.1,2.1 0 1,0 4.2,0a2.1,2.1 0 1,0 -4.2,0 M443.86,336.62a2.1,2.1 0 1,0 4.2,0a2.1,2.1 0 1,0 -4.2,0 M444.58,339.66a2.1,2.1 0 1,0 4.2,0a2.1,2.1 0 1,0 -4.2,0 M445.29,336.70a2.1,2.1 0 1,0 4.2,0a2.1,2.1 0 1,0 -4.2,0 M446.01,339.41a2.1,2.1 0 1,0 4.2,0a2.1,2.1 0 1,0 -4.2,0 M446.72,338.09a2.1,2.1 0 1,0 4.2,0a2.1,2.1 0 1,0 -4.2,0 M447.43,339.97a2.1,2.1 0 1,0 4.2,0a2.1,2.1 0 1,0 -4.2,0 M448.15,338.01a2.1,2.1 0 1,0 4.2,0a2.1,2.1 0 1,0 -4.2,0 M448.86,339.20a2.1,2.1 0 1,0 4.2,0a2.1,2.1 0 1,0 -4.2,0 M449.58,339.27a2.1,2.1 0 1,0 4.2,0a2.1,2.1 0 1,0 -4.2,0 M450.29,340.51a2.1,2.1 0 1,0 4.2,0a2.1,2.1 0 1,0 -4.2,0 M451.01,339.23a2.1,2.1 0 1,0 4.2,0a2.1,2.1 0 1,0 -4.2,0 M451.72,336.77a2.1,2.1 0 1,0 4.2,0a2.1,2.1 0 1,0 -4.2,0 M452.44,343.51a2.1,2.1 0 1,0 4.2,0a2.1,2.1 0 1,0 -4.2,0 M453.15,339.46a2.1,2.1 0 1,0 4.2,0a2.1,2.1 0 1,0 -4.2,0 M453.87,340.34a2.1,2.1 0 1,0 4.2,0a2.1,2.1 0 1,0 -4.2,0 M454.58,341.82a2.1,2.1 0 1,0 4.2,0a2.1,2.1 0 1,0 -4.2,0 M455.30,343.82a2.1,2.1 0 1,0 4.2,0a2.1,2.1 0 1,0 -4.2,0 M456.01,338.78a2.1,2.1 0 1,0 4.2,0a2.1,2.1 0 1,0 -4.2,0 M456.73,341.73a2.1,2.1 0 1,0 4.2,0a2.1,2.1 0 1,0 -4.2,0 M457.44,340.53a2.1,2.1 0 1,0 4.2,0a2.1,2.1 0 1,0 -4.2,0 M458.16,343.44a2.1,2.1 0 1,0 4.2,0a2.1,2.1 0 1,0 -4.2,0 M458.87,344.51a2.1,2.1 0 1,0 4.2,0a2.1,2.1 0 1,0 -4.2,0 M459.59,341.37a2.1,2.1 0 1,0 4.2,0a2.1,2.1 0 1,0 -4.2,0 M460.30,342.35a2.1,2.1 0 1,0 4.2,0a2.1,2.1 0 1,0 -4.2,0 M461.02,344.63a2.1,2.1 0 1,0 4.2,0a2.1,2.1 0 1,0 -4.2,0 M461.73,344.80a2.1,2.1 0 1,0 4.2,0a2.1,2.1 0 1,0 -4.2,0 M462.44,343.56a2.1,2.1 0 1,0 4.2,0a2.1,2.1 0 1,0 -4.2,0 M463.16,346.57a2.1,2.1 0 1,0 4.2,0a2.1,2.1 0 1,0 -4.2,0 M463.87,346.99a2.1,2.1 0 1,0 4.2,0a2.1,2.1 0 1,0 -4.2,0 M464.59,345.84a2.1,2.1 0 1,0 4.2,0a2.1,2.1 0 1,0 -4.2,0 M465.30,344.22a2.1,2.1 0 1,0 4.2,0a2.1,2.1 0 1,0 -4.2,0 M466.02,344.84a2.1,2.1 0 1,0 4.2,0a2.1,2.1 0 1,0 -4.2,0 M466.73,346.45a2.1,2.1 0 1,0 4.2,0a2.1,2.1 0 1,0 -4.2,0 M467.45,344.62a2.1,2.1 0 1,0 4.2,0a2.1,2.1 0 1,0 -4.2,0 M468.16,347.78a2.1,2.1 0 1,0 4.2,0a2.1,2.1 0 1,0 -4.2,0 M468.88,348.77a2.1,2.1 0 1,0 4.2,0a2.1,2.1 0 1,0 -4.2,0 M469.59,343.79a2.1,2.1 0 1,0 4.2,0a2.1,2.1 0 1,0 -4.2,0 M470.31,349.46a2.1,2.1 0 1,0 4.2,0a2.1,2.1 0 1,0 -4.2,0 M471.02,347.75a2.1,2.1 0 1,0 4.2,0a2.1,2.1 0 1,0 -4.2,0 M471.74,348.09a2.1,2.1 0 1,0 4.2,0a2.1,2.1 0 1,0 -4.2,0 M472.45,349.15a2.1,2.1 0 1,0 4.2,0a2.1,2.1 0 1,0 -4.2,0 M473.17,349.20a2.1,2.1 0 1,0 4.2,0a2.1,2.1 0 1,0 -4.2,0 M473.88,348.56a2.1,2.1 0 1,0 4.2,0a2.1,2.1 0 1,0 -4.2,0 M474.60,349.08a2.1,2.1 0 1,0 4.2,0a2.1,2.1 0 1,0 -4.2,0 M475.31,351.46a2.1,2.1 0 1,0 4.2,0a2.1,2.1 0 1,0 -4.2,0 M476.03,350.60a2.1,2.1 0 1,0 4.2,0a2.1,2.1 0 1,0 -4.2,0 M476.74,348.26a2.1,2.1 0 1,0 4.2,0a2.1,2.1 0 1,0 -4.2,0 M477.46,349.74a2.1,2.1 0 1,0 4.2,0a2.1,2.1 0 1,0 -4.2,0 M478.17,352.16a2.1,2.1 0 1,0 4.2,0a2.1,2.1 0 1,0 -4.2,0 M478.88,351.48a2.1,2.1 0 1,0 4.2,0a2.1,2.1 0 1,0 -4.2,0 M479.60,353.70a2.1,2.1 0 1,0 4.2,0a2.1,2.1 0 1,0 -4.2,0 M480.31,354.42a2.1,2.1 0 1,0 4.2,0a2.1,2.1 0 1,0 -4.2,0 M481.03,353.14a2.1,2.1 0 1,0 4.2,0a2.1,2.1 0 1,0 -4.2,0 M481.74,349.30a2.1,2.1 0 1,0 4.2,0a2.1,2.1 0 1,0 -4.2,0 M482.46,353.62a2.1,2.1 0 1,0 4.2,0a2.1,2.1 0 1,0 -4.2,0 M483.17,356.30a2.1,2.1 0 1,0 4.2,0a2.1,2.1 0 1,0 -4.2,0 M483.89,352.96a2.1,2.1 0 1,0 4.2,0a2.1,2.1 0 1,0 -4.2,0 M484.60,354.18a2.1,2.1 0 1,0 4.2,0a2.1,2.1 0 1,0 -4.2,0 M485.32,351.66a2.1,2.1 0 1,0 4.2,0a2.1,2.1 0 1,0 -4.2,0 M486.03,350.88a2.1,2.1 0 1,0 4.2,0a2.1,2.1 0 1,0 -4.2,0 M486.75,353.96a2.1,2.1 0 1,0 4.2,0a2.1,2.1 0 1,0 -4.2,0 M487.46,353.27a2.1,2.1 0 1,0 4.2,0a2.1,2.1 0 1,0 -4.2,0 M488.18,355.31a2.1,2.1 0 1,0 4.2,0a2.1,2.1 0 1,0 -4.2,0 M488.89,351.49a2.1,2.1 0 1,0 4.2,0a2.1,2.1 0 1,0 -4.2,0 M489.61,355.21a2.1,2.1 0 1,0 4.2,0a2.1,2.1 0 1,0 -4.2,0 M490.32,353.89a2.1,2.1 0 1,0 4.2,0a2.1,2.1 0 1,0 -4.2,0 M491.04,349.60a2.1,2.1 0 1,0 4.2,0a2.1,2.1 0 1,0 -4.2,0 M491.75,355.88a2.1,2.1 0 1,0 4.2,0a2.1,2.1 0 1,0 -4.2,0 M492.47,353.93a2.1,2.1 0 1,0 4.2,0a2.1,2.1 0 1,0 -4.2,0 M493.18,354.44a2.1,2.1 0 1,0 4.2,0a2.1,2.1 0 1,0 -4.2,0 M493.90,353.57a2.1,2.1 0 1,0 4.2,0a2.1,2.1 0 1,0 -4.2,0 M494.61,353.66a2.1,2.1 0 1,0 4.2,0a2.1,2.1 0 1,0 -4.2,0 M495.32,351.86a2.1,2.1 0 1,0 4.2,0a2.1,2.1 0 1,0 -4.2,0 M496.04,353.82a2.1,2.1 0 1,0 4.2,0a2.1,2.1 0 1,0 -4.2,0 M496.75,353.71a2.1,2.1 0 1,0 4.2,0a2.1,2.1 0 1,0 -4.2,0 M497.47,357.24a2.1,2.1 0 1,0 4.2,0a2.1,2.1 0 1,0 -4.2,0 M498.18,354.28a2.1,2.1 0 1,0 4.2,0a2.1,2.1 0 1,0 -4.2,0 M498.90,357.62a2.1,2.1 0 1,0 4.2,0a2.1,2.1 0 1,0 -4.2,0 M499.61,352.96a2.1,2.1 0 1,0 4.2,0a2.1,2.1 0 1,0 -4.2,0 M500.33,355.43a2.1,2.1 0 1,0 4.2,0a2.1,2.1 0 1,0 -4.2,0 M501.04,353.62a2.1,2.1 0 1,0 4.2,0a2.1,2.1 0 1,0 -4.2,0 M501.76,356.45a2.1,2.1 0 1,0 4.2,0a2.1,2.1 0 1,0 -4.2,0 M502.47,355.20a2.1,2.1 0 1,0 4.2,0a2.1,2.1 0 1,0 -4.2,0 M503.19,355.56a2.1,2.1 0 1,0 4.2,0a2.1,2.1 0 1,0 -4.2,0 M503.90,354.79a2.1,2.1 0 1,0 4.2,0a2.1,2.1 0 1,0 -4.2,0 M504.62,356.12a2.1,2.1 0 1,0 4.2,0a2.1,2.1 0 1,0 -4.2,0 M505.33,357.12a2.1,2.1 0 1,0 4.2,0a2.1,2.1 0 1,0 -4.2,0" fill="#1f3f7d"/>
<circle cx="423.9758" cy="336.9" r="2" fill="#1f3f7d"/><circle cx="423.9758" cy="311.7" r="2" fill="#1f3f7d"/>
<line x1="430.6904" y1="332.1" x2="430.6904" y2="343.38" stroke="#4d68a3" stroke-width="0.9" />
<path d="M397.10,356.10a2.4,2.4 0 1,0 4.8,0a2.4,2.4 0 1,0 -4.8,0 M398.18,355.20a2.4,2.4 0 1,0 4.8,0a2.4,2.4 0 1,0 -4.8,0 M399.27,354.30a2.4,2.4 0 1,0 4.8,0a2.4,2.4 0 1,0 -4.8,0 M400.35,353.40a2.4,2.4 0 1,0 4.8,0a2.4,2.4 0 1,0 -4.8,0 M401.43,352.50a2.4,2.4 0 1,0 4.8,0a2.4,2.4 0 1,0 -4.8,0 M402.52,350.70a2.4,2.4 0 1,0 4.8,0a2.4,2.4 0 1,0 -4.8,0 M403.60,348.90a2.4,2.4 0 1,0 4.8,0a2.4,2.4 0 1,0 -4.8,0 M404.68,347.17a2.4,2.4 0 1,0 4.8,0a2.4,2.4 0 1,0 -4.8,0 M405.76,344.02a2.4,2.4 0 1,0 4.8,0a2.4,2.4 0 1,0 -4.8,0 M406.85,343.56a2.4,2.4 0 1,0 4.8,0a2.4,2.4 0 1,0 -4.8,0 M407.93,342.00a2.4,2.4 0 1,0 4.8,0a2.4,2.4 0 1,0 -4.8,0 M409.01,337.86a2.4,2.4 0 1,0 4.8,0a2.4,2.4 0 1,0 -4.8,0 M410.10,335.14a2.4,2.4 0 1,0 4.8,0a2.4,2.4 0 1,0 -4.8,0 M411.18,333.84a2.4,2.4 0 1,0 4.8,0a2.4,2.4 0 1,0 -4.8,0 M412.26,332.22a2.4,2.4 0 1,0 4.8,0a2.4,2.4 0 1,0 -4.8,0 M413.35,332.64a2.4,2.4 0 1,0 4.8,0a2.4,2.4 0 1,0 -4.8,0 M414.43,332.94a2.4,2.4 0 1,0 4.8,0a2.4,2.4 0 1,0 -4.8,0 M415.51,332.97a2.4,2.4 0 1,0 4.8,0a2.4,2.4 0 1,0 -4.8,0 M416.59,332.41a2.4,2.4 0 1,0 4.8,0a2.4,2.4 0 1,0 -4.8,0 M417.68,332.45a2.4,2.4 0 1,0 4.8,0a2.4,2.4 0 1,0 -4.8,0 M418.76,331.24a2.4,2.4 0 1,0 4.8,0a2.4,2.4 0 1,0 -4.8,0 M419.84,331.57a2.4,2.4 0 1,0 4.8,0a2.4,2.4 0 1,0 -4.8,0 M420.93,333.23a2.4,2.4 0 1,0 4.8,0a2.4,2.4 0 1,0 -4.8,0 M422.01,331.65a2.4,2.4 0 1,0 4.8,0a2.4,2.4 0 1,0 -4.8,0 M423.09,332.34a2.4,2.4 0 1,0 4.8,0a2.4,2.4 0 1,0 -4.8,0 M424.18,331.45a2.4,2.4 0 1,0 4.8,0a2.4,2.4 0 1,0 -4.8,0 M425.26,331.19a2.4,2.4 0 1,0 4.8,0a2.4,2.4 0 1,0 -4.8,0 M426.34,332.07a2.4,2.4 0 1,0 4.8,0a2.4,2.4 0 1,0 -4.8,0 M427.42,334.12a2.4,2.4 0 1,0 4.8,0a2.4,2.4 0 1,0 -4.8,0 M428.51,332.37a2.4,2.4 0 1,0 4.8,0a2.4,2.4 0 1,0 -4.8,0 M429.59,334.56a2.4,2.4 0 1,0 4.8,0a2.4,2.4 0 1,0 -4.8,0 M430.67,332.23a2.4,2.4 0 1,0 4.8,0a2.4,2.4 0 1,0 -4.8,0 M431.76,334.43a2.4,2.4 0 1,0 4.8,0a2.4,2.4 0 1,0 -4.8,0 M432.84,334.35a2.4,2.4 0 1,0 4.8,0a2.4,2.4 0 1,0 -4.8,0 M433.92,332.96a2.4,2.4 0 1,0 4.8,0a2.4,2.4 0 1,0 -4.8,0 M435.00,336.31a2.4,2.4 0 1,0 4.8,0a2.4,2.4 0 1,0 -4.8,0 M436.09,335.14a2.4,2.4 0 1,0 4.8,0a2.4,2.4 0 1,0 -4.8,0 M437.17,336.46a2.4,2.4 0 1,0 4.8,0a2.4,2.4 0 1,0 -4.8,0 M438.25,336.38a2.4,2.4 0 1,0 4.8,0a2.4,2.4 0 1,0 -4.8,0 M439.34,337.00a2.4,2.4 0 1,0 4.8,0a2.4,2.4 0 1,0 -4.8,0 M440.42,336.13a2.4,2.4 0 1,0 4.8,0a2.4,2.4 0 1,0 -4.8,0 M441.50,337.35a2.4,2.4 0 1,0 4.8,0a2.4,2.4 0 1,0 -4.8,0 M442.59,337.19a2.4,2.4 0 1,0 4.8,0a2.4,2.4 0 1,0 -4.8,0 M443.67,337.33a2.4,2.4 0 1,0 4.8,0a2.4,2.4 0 1,0 -4.8,0 M444.75,339.71a2.4,2.4 0 1,0 4.8,0a2.4,2.4 0 1,0 -4.8,0 M445.84,337.46a2.4,2.4 0 1,0 4.8,0a2.4,2.4 0 1,0 -4.8,0 M446.92,339.24a2.4,2.4 0 1,0 4.8,0a2.4,2.4 0 1,0 -4.8,0 M448.00,340.83a2.4,2.4 0 1,0 4.8,0a2.4,2.4 0 1,0 -4.8,0 M449.08,340.37a2.4,2.4 0 1,0 4.8,0a2.4,2.4 0 1,0 -4.8,0 M450.17,339.51a2.4,2.4 0 1,0 4.8,0a2.4,2.4 0 1,0 -4.8,0 M451.25,339.85a2.4,2.4 0 1,0 4.8,0a2.4,2.4 0 1,0 -4.8,0 M452.33,341.74a2.4,2.4 0 1,0 4.8,0a2.4,2.4 0 1,0 -4.8,0 M453.42,341.52a2.4,2.4 0 1,0 4.8,0a2.4,2.4 0 1,0 -4.8,0 M454.50,341.85a2.4,2.4 0 1,0 4.8,0a2.4,2.4 0 1,0 -4.8,0 M455.58,341.62a2.4,2.4 0 1,0 4.8,0a2.4,2.4 0 1,0 -4.8,0 M456.67,343.07a2.4,2.4 0 1,0 4.8,0a2.4,2.4 0 1,0 -4.8,0 M457.75,342.57a2.4,2.4 0 1,0 4.8,0a2.4,2.4 0 1,0 -4.8,0 M458.83,344.61a2.4,2.4 0 1,0 4.8,0a2.4,2.4 0 1,0 -4.8,0 M459.91,344.92a2.4,2.4 0 1,0 4.8,0a2.4,2.4 0 1,0 -4.8,0 M461.00,344.19a2.4,2.4 0 1,0 4.8,0a2.4,2.4 0 1,0 -4.8,0 M462.08,344.59a2.4,2.4 0 1,0 4.8,0a2.4,2.4 0 1,0 -4.8,0 M463.16,345.69a2.4,2.4 0 1,0 4.8,0a2.4,2.4 0 1,0 -4.8,0 M464.25,345.59a2.4,2.4 0 1,0 4.8,0a2.4,2.4 0 1,0 -4.8,0 M465.33,346.38a2.4,2.4 0 1,0 4.8,0a2.4,2.4 0 1,0 -4.8,0 M466.41,346.35a2.4,2.4 0 1,0 4.8,0a2.4,2.4 0 1,0 -4.8,0 M467.50,346.46a2.4,2.4 0 1,0 4.8,0a2.4,2.4 0 1,0 -4.8,0 M468.58,347.46a2.4,2.4 0 1,0 4.8,0a2.4,2.4 0 1,0 -4.8,0 M469.66,347.65a2.4,2.4 0 1,0 4.8,0a2.4,2.4 0 1,0 -4.8,0 M470.74,349.14a2.4,2.4 0 1,0 4.8,0a2.4,2.4 0 1,0 -4.8,0 M471.83,349.58a2.4,2.4 0 1,0 4.8,0a2.4,2.4 0 1,0 -4.8,0 M472.91,351.42a2.4,2.4 0 1,0 4.8,0a2.4,2.4 0 1,0 -4.8,0 M473.99,349.35a2.4,2.4 0 1,0 4.8,0a2.4,2.4 0 1,0 -4.8,0 M475.08,349.98a2.4,2.4 0 1,0 4.8,0a2.4,2.4 0 1,0 -4.8,0 M476.16,349.85a2.4,2.4 0 1,0 4.8,0a2.4,2.4 0 1,0 -4.8,0 M477.24,352.20a2.4,2.4 0 1,0 4.8,0a2.4,2.4 0 1,0 -4.8,0 M478.33,351.32a2.4,2.4 0 1,0 4.8,0a2.4,2.4 0 1,0 -4.8,0 M479.41,351.68a2.4,2.4 0 1,0 4.8,0a2.4,2.4 0 1,0 -4.8,0 M480.49,352.97a2.4,2.4 0 1,0 4.8,0a2.4,2.4 0 1,0 -4.8,0 M481.57,350.88a2.4,2.4 0 1,0 4.8,0a2.4,2.4 0 1,0 -4.8,0 M482.66,350.83a2.4,2.4 0 1,0 4.8,0a2.4,2.4 0 1,0 -4.8,0 M483.74,353.19a2.4,2.4 0 1,0 4.8,0a2.4,2.4 0 1,0 -4.8,0 M484.82,351.95a2.4,2.4 0 1,0 4.8,0a2.4,2.4 0 1,0 -4.8,0 M485.91,351.07a2.4,2.4 0 1,0 4.8,0a2.4,2.4 0 1,0 -4.8,0 M486.99,353.82a2.4,2.4 0 1,0 4.8,0a2.4,2.4 0 1,0 -4.8,0 M488.07,352.16a2.4,2.4 0 1,0 4.8,0a2.4,2.4 0 1,0 -4.8,0 M489.16,351.79a2.4,2.4 0 1,0 4.8,0a2.4,2.4 0 1,0 -4.8,0 M490.24,351.70a2.4,2.4 0 1,0 4.8,0a2.4,2.4 0 1,0 -4.8,0 M491.32,354.62a2.4,2.4 0 1,0 4.8,0a2.4,2.4 0 1,0 -4.8,0 M492.40,354.51a2.4,2.4 0 1,0 4.8,0a2.4,2.4 0 1,0 -4.8,0 M493.49,353.57a2.4,2.4 0 1,0 4.8,0a2.4,2.4 0 1,0 -4.8,0 M494.57,352.87a2.4,2.4 0 1,0 4.8,0a2.4,2.4 0 1,0 -4.8,0 M495.65,355.13a2.4,2.4 0 1,0 4.8,0a2.4,2.4 0 1,0 -4.8,0 M496.74,354.85a2.4,2.4 0 1,0 4.8,0a2.4,2.4 0 1,0 -4.8,0 M497.82,355.38a2.4,2.4 0 1,0 4.8,0a2.4,2.4 0 1,0 -4.8,0 M498.90,353.70a2.4,2.4 0 1,0 4.8,0a2.4,2.4 0 1,0 -4.8,0 M499.99,355.36a2.4,2.4 0 1,0 4.8,0a2.4,2.4 0 1,0 -4.8,0 M501.07,354.61a2.4,2.4 0 1,0 4.8,0a2.4,2.4 0 1,0 -4.8,0 M502.15,354.77a2.4,2.4 0 1,0 4.8,0a2.4,2.4 0 1,0 -4.8,0 M503.23,354.55a2.4,2.4 0 1,0 4.8,0a2.4,2.4 0 1,0 -4.8,0 M504.32,355.42a2.4,2.4 0 1,0 4.8,0a2.4,2.4 0 1,0 -4.8,0 M505.40,355.71a2.4,2.4 0 1,0 4.8,0a2.4,2.4 0 1,0 -4.8,0" fill="#4d68a3"/>
<circle cx="430.6904" cy="343.38" r="2" fill="#4d68a3"/>
<path d="M397.00,356.10a2.5,2.5 0 1,0 5.0,0a2.5,2.5 0 1,0 -5.0,0 M399.17,354.90a2.5,2.5 0 1,0 5.0,0a2.5,2.5 0 1,0 -5.0,0 M401.33,353.70a2.5,2.5 0 1,0 5.0,0a2.5,2.5 0 1,0 -5.0,0 M403.50,352.50a2.5,2.5 0 1,0 5.0,0a2.5,2.5 0 1,0 -5.0,0 M405.66,352.17a2.5,2.5 0 1,0 5.0,0a2.5,2.5 0 1,0 -5.0,0 M407.83,349.96a2.5,2.5 0 1,0 5.0,0a2.5,2.5 0 1,0 -5.0,0 M410.00,349.07a2.5,2.5 0 1,0 5.0,0a2.5,2.5 0 1,0 -5.0,0 M412.16,348.59a2.5,2.5 0 1,0 5.0,0a2.5,2.5 0 1,0 -5.0,0 M414.33,347.12a2.5,2.5 0 1,0 5.0,0a2.5,2.5 0 1,0 -5.0,0 M416.49,347.06a2.5,2.5 0 1,0 5.0,0a2.5,2.5 0 1,0 -5.0,0 M418.66,346.66a2.5,2.5 0 1,0 5.0,0a2.5,2.5 0 1,0 -5.0,0 M420.83,345.40a2.5,2.5 0 1,0 5.0,0a2.5,2.5 0 1,0 -5.0,0 M422.99,346.76a2.5,2.5 0 1,0 5.0,0a2.5,2.5 0 1,0 -5.0,0 M425.16,347.20a2.5,2.5 0 1,0 5.0,0a2.5,2.5 0 1,0 -5.0,0 M427.32,347.25a2.5,2.5 0 1,0 5.0,0a2.5,2.5 0 1,0 -5.0,0 M429.49,346.73a2.5,2.5 0 1,0 5.0,0a2.5,2.5 0 1,0 -5.0,0 M431.66,346.00a2.5,2.5 0 1,0 5.0,0a2.5,2.5 0 1,0 -5.0,0 M433.82,345.86a2.5,2.5 0 1,0 5.0,0a2.5,2.5 0 1,0 -5.0,0 M435.99,345.67a2.5,2.5 0 1,0 5.0,0a2.5,2.5 0 1,0 -5.0,0 M438.15,345.23a2.5,2.5 0 1,0 5.0,0a2.5,2.5 0 1,0 -5.0,0 M440.32,345.29a2.5,2.5 0 1,0 5.0,0a2.5,2.5 0 1,0 -5.0,0 M442.49,345.90a2.5,2.5 0 1,0 5.0,0a2.5,2.5 0 1,0 -5.0,0 M444.65,345.47a2.5,2.5 0 1,0 5.0,0a2.5,2.5 0 1,0 -5.0,0 M446.82,345.85a2.5,2.5 0 1,0 5.0,0a2.5,2.5 0 1,0 -5.0,0 M448.98,346.57a2.5,2.5 0 1,0 5.0,0a2.5,2.5 0 1,0 -5.0,0 M451.15,345.71a2.5,2.5 0 1,0 5.0,0a2.5,2.5 0 1,0 -5.0,0 M453.32,346.15a2.5,2.5 0 1,0 5.0,0a2.5,2.5 0 1,0 -5.0,0 M455.48,346.29a2.5,2.5 0 1,0 5.0,0a2.5,2.5 0 1,0 -5.0,0 M457.65,344.94a2.5,2.5 0 1,0 5.0,0a2.5,2.5 0 1,0 -5.0,0 M459.81,345.66a2.5,2.5 0 1,0 5.0,0a2.5,2.5 0 1,0 -5.0,0 M461.98,346.40a2.5,2.5 0 1,0 5.0,0a2.5,2.5 0 1,0 -5.0,0 M464.15,346.15a2.5,2.5 0 1,0 5.0,0a2.5,2.5 0 1,0 -5.0,0 M466.31,344.69a2.5,2.5 0 1,0 5.0,0a2.5,2.5 0 1,0 -5.0,0 M468.48,346.26a2.5,2.5 0 1,0 5.0,0a2.5,2.5 0 1,0 -5.0,0 M470.64,345.66a2.5,2.5 0 1,0 5.0,0a2.5,2.5 0 1,0 -5.0,0 M472.81,345.73a2.5,2.5 0 1,0 5.0,0a2.5,2.5 0 1,0 -5.0,0 M474.98,345.87a2.5,2.5 0 1,0 5.0,0a2.5,2.5 0 1,0 -5.0,0 M477.14,345.89a2.5,2.5 0 1,0 5.0,0a2.5,2.5 0 1,0 -5.0,0 M479.31,346.62a2.5,2.5 0 1,0 5.0,0a2.5,2.5 0 1,0 -5.0,0 M481.47,346.68a2.5,2.5 0 1,0 5.0,0a2.5,2.5 0 1,0 -5.0,0 M483.64,346.56a2.5,2.5 0 1,0 5.0,0a2.5,2.5 0 1,0 -5.0,0 M485.81,346.68a2.5,2.5 0 1,0 5.0,0a2.5,2.5 0 1,0 -5.0,0 M487.97,345.98a2.5,2.5 0 1,0 5.0,0a2.5,2.5 0 1,0 -5.0,0 M490.14,345.53a2.5,2.5 0 1,0 5.0,0a2.5,2.5 0 1,0 -5.0,0 M492.30,347.01a2.5,2.5 0 1,0 5.0,0a2.5,2.5 0 1,0 -5.0,0 M494.47,346.13a2.5,2.5 0 1,0 5.0,0a2.5,2.5 0 1,0 -5.0,0 M496.64,347.66a2.5,2.5 0 1,0 5.0,0a2.5,2.5 0 1,0 -5.0,0 M498.80,348.09a2.5,2.5 0 1,0 5.0,0a2.5,2.5 0 1,0 -5.0,0 M500.97,349.81a2.5,2.5 0 1,0 5.0,0a2.5,2.5 0 1,0 -5.0,0 M503.13,351.60a2.5,2.5 0 1,0 5.0,0a2.5,2.5 0 1,0 -5.0,0 M505.30,353.93a2.5,2.5 0 1,0 5.0,0a2.5,2.5 0 1,0 -5.0,0" fill="#949fc9"/>
<path d="M397.70,357.54a1.8,1.8 0 1,0 3.6,0a1.8,1.8 0 1,0 -3.6,0 M398.78,357.54a1.8,1.8 0 1,0 3.6,0a1.8,1.8 0 1,0 -3.6,0 M399.87,357.54a1.8,1.8 0 1,0 3.6,0a1.8,1.8 0 1,0 -3.6,0 M400.95,357.54a1.8,1.8 0 1,0 3.6,0a1.8,1.8 0 1,0 -3.6,0 M402.03,357.54a1.8,1.8 0 1,0 3.6,0a1.8,1.8 0 1,0 -3.6,0 M403.12,357.54a1.8,1.8 0 1,0 3.6,0a1.8,1.8 0 1,0 -3.6,0 M404.20,357.54a1.8,1.8 0 1,0 3.6,0a1.8,1.8 0 1,0 -3.6,0 M405.28,357.98a1.8,1.8 0 1,0 3.6,0a1.8,1.8 0 1,0 -3.6,0 M406.36,357.40a1.8,1.8 0 1,0 3.6,0a1.8,1.8 0 1,0 -3.6,0 M407.45,357.18a1.8,1.8 0 1,0 3.6,0a1.8,1.8 0 1,0 -3.6,0 M408.53,357.72a1.8,1.8 0 1,0 3.6,0a1.8,1.8 0 1,0 -3.6,0 M409.61,358.02a1.8,1.8 0 1,0 3.6,0a1.8,1.8 0 1,0 -3.6,0 M410.70,357.56a1.8,1.8 0 1,0 3.6,0a1.8,1.8 0 1,0 -3.6,0 M411.78,357.37a1.8,1.8 0 1,0 3.6,0a1.8,1.8 0 1,0 -3.6,0 M412.86,357.14a1.8,1.8 0 1,0 3.6,0a1.8,1.8 0 1,0 -3.6,0 M413.94,357.98a1.8,1.8 0 1,0 3.6,0a1.8,1.8 0 1,0 -3.6,0 M415.03,358.01a1.8,1.8 0 1,0 3.6,0a1.8,1.8 0 1,0 -3.6,0 M416.11,357.29a1.8,1.8 0 1,0 3.6,0a1.8,1.8 0 1,0 -3.6,0 M417.19,357.37a1.8,1.8 0 1,0 3.6,0a1.8,1.8 0 1,0 -3.6,0 M418.28,356.99a1.8,1.8 0 1,0 3.6,0a1.8,1.8 0 1,0 -3.6,0 M419.36,357.19a1.8,1.8 0 1,0 3.6,0a1.8,1.8 0 1,0 -3.6,0 M420.44,357.58a1.8,1.8 0 1,0 3.6,0a1.8,1.8 0 1,0 -3.6,0 M421.53,357.64a1.8,1.8 0 1,0 3.6,0a1.8,1.8 0 1,0 -3.6,0 M422.61,356.61a1.8,1.8 0 1,0 3.6,0a1.8,1.8 0 1,0 -3.6,0 M423.69,357.64a1.8,1.8 0 1,0 3.6,0a1.8,1.8 0 1,0 -3.6,0 M424.77,357.82a1.8,1.8 0 1,0 3.6,0a1.8,1.8 0 1,0 -3.6,0 M425.86,357.95a1.8,1.8 0 1,0 3.6,0a1.8,1.8 0 1,0 -3.6,0 M426.94,357.51a1.8,1.8 0 1,0 3.6,0a1.8,1.8 0 1,0 -3.6,0 M428.02,357.49a1.8,1.8 0 1,0 3.6,0a1.8,1.8 0 1,0 -3.6,0 M429.11,357.66a1.8,1.8 0 1,0 3.6,0a1.8,1.8 0 1,0 -3.6,0 M430.19,357.56a1.8,1.8 0 1,0 3.6,0a1.8,1.8 0 1,0 -3.6,0 M431.27,357.44a1.8,1.8 0 1,0 3.6,0a1.8,1.8 0 1,0 -3.6,0 M432.36,357.29a1.8,1.8 0 1,0 3.6,0a1.8,1.8 0 1,0 -3.6,0 M433.44,357.15a1.8,1.8 0 1,0 3.6,0a1.8,1.8 0 1,0 -3.6,0 M434.52,357.46a1.8,1.8 0 1,0 3.6,0a1.8,1.8 0 1,0 -3.6,0 M435.60,358.18a1.8,1.8 0 1,0 3.6,0a1.8,1.8 0 1,0 -3.6,0 M436.69,357.29a1.8,1.8 0 1,0 3.6,0a1.8,1.8 0 1,0 -3.6,0 M437.77,358.05a1.8,1.8 0 1,0 3.6,0a1.8,1.8 0 1,0 -3.6,0 M438.85,357.60a1.8,1.8 0 1,0 3.6,0a1.8,1.8 0 1,0 -3.6,0 M439.94,358.07a1.8,1.8 0 1,0 3.6,0a1.8,1.8 0 1,0 -3.6,0 M441.02,357.54a1.8,1.8 0 1,0 3.6,0a1.8,1.8 0 1,0 -3.6,0 M442.10,357.82a1.8,1.8 0 1,0 3.6,0a1.8,1.8 0 1,0 -3.6,0 M443.19,357.46a1.8,1.8 0 1,0 3.6,0a1.8,1.8 0 1,0 -3.6,0 M444.27,356.35a1.8,1.8 0 1,0 3.6,0a1.8,1.8 0 1,0 -3.6,0 M445.35,357.56a1.8,1.8 0 1,0 3.6,0a1.8,1.8 0 1,0 -3.6,0 M446.44,357.24a1.8,1.8 0 1,0 3.6,0a1.8,1.8 0 1,0 -3.6,0 M447.52,358.02a1.8,1.8 0 1,0 3.6,0a1.8,1.8 0 1,0 -3.6,0 M448.60,357.64a1.8,1.8 0 1,0 3.6,0a1.8,1.8 0 1,0 -3.6,0 M449.68,357.30a1.8,1.8 0 1,0 3.6,0a1.8,1.8 0 1,0 -3.6,0 M450.77,357.57a1.8,1.8 0 1,0 3.6,0a1.8,1.8 0 1,0 -3.6,0 M451.85,357.41a1.8,1.8 0 1,0 3.6,0a1.8,1.8 0 1,0 -3.6,0 M452.93,357.50a1.8,1.8 0 1,0 3.6,0a1.8,1.8 0 1,0 -3.6,0 M454.02,357.90a1.8,1.8 0 1,0 3.6,0a1.8,1.8 0 1,0 -3.6,0 M455.10,357.34a1.8,1.8 0 1,0 3.6,0a1.8,1.8 0 1,0 -3.6,0 M456.18,357.83a1.8,1.8 0 1,0 3.6,0a1.8,1.8 0 1,0 -3.6,0 M457.26,356.87a1.8,1.8 0 1,0 3.6,0a1.8,1.8 0 1,0 -3.6,0 M458.35,357.72a1.8,1.8 0 1,0 3.6,0a1.8,1.8 0 1,0 -3.6,0 M459.43,357.29a1.8,1.8 0 1,0 3.6,0a1.8,1.8 0 1,0 -3.6,0 M460.51,357.54a1.8,1.8 0 1,0 3.6,0a1.8,1.8 0 1,0 -3.6,0 M461.60,357.20a1.8,1.8 0 1,0 3.6,0a1.8,1.8 0 1,0 -3.6,0 M462.68,357.76a1.8,1.8 0 1,0 3.6,0a1.8,1.8 0 1,0 -3.6,0 M463.76,357.18a1.8,1.8 0 1,0 3.6,0a1.8,1.8 0 1,0 -3.6,0 M464.85,357.58a1.8,1.8 0 1,0 3.6,0a1.8,1.8 0 1,0 -3.6,0 M465.93,357.09a1.8,1.8 0 1,0 3.6,0a1.8,1.8 0 1,0 -3.6,0 M467.01,357.32a1.8,1.8 0 1,0 3.6,0a1.8,1.8 0 1,0 -3.6,0 M468.09,357.49a1.8,1.8 0 1,0 3.6,0a1.8,1.8 0 1,0 -3.6,0 M469.18,357.82a1.8,1.8 0 1,0 3.6,0a1.8,1.8 0 1,0 -3.6,0 M470.26,357.26a1.8,1.8 0 1,0 3.6,0a1.8,1.8 0 1,0 -3.6,0 M471.34,357.37a1.8,1.8 0 1,0 3.6,0a1.8,1.8 0 1,0 -3.6,0 M472.43,356.95a1.8,1.8 0 1,0 3.6,0a1.8,1.8 0 1,0 -3.6,0 M473.51,357.68a1.8,1.8 0 1,0 3.6,0a1.8,1.8 0 1,0 -3.6,0 M474.59,357.34a1.8,1.8 0 1,0 3.6,0a1.8,1.8 0 1,0 -3.6,0 M475.68,357.36a1.8,1.8 0 1,0 3.6,0a1.8,1.8 0 1,0 -3.6,0 M476.76,357.44a1.8,1.8 0 1,0 3.6,0a1.8,1.8 0 1,0 -3.6,0 M477.84,357.46a1.8,1.8 0 1,0 3.6,0a1.8,1.8 0 1,0 -3.6,0 M478.93,357.47a1.8,1.8 0 1,0 3.6,0a1.8,1.8 0 1,0 -3.6,0 M480.01,357.76a1.8,1.8 0 1,0 3.6,0a1.8,1.8 0 1,0 -3.6,0 M481.09,357.91a1.8,1.8 0 1,0 3.6,0a1.8,1.8 0 1,0 -3.6,0 M482.17,357.68a1.8,1.8 0 1,0 3.6,0a1.8,1.8 0 1,0 -3.6,0 M483.26,357.33a1.8,1.8 0 1,0 3.6,0a1.8,1.8 0 1,0 -3.6,0 M484.34,357.00a1.8,1.8 0 1,0 3.6,0a1.8,1.8 0 1,0 -3.6,0 M485.42,357.19a1.8,1.8 0 1,0 3.6,0a1.8,1.8 0 1,0 -3.6,0 M486.51,357.16a1.8,1.8 0 1,0 3.6,0a1.8,1.8 0 1,0 -3.6,0 M487.59,357.26a1.8,1.8 0 1,0 3.6,0a1.8,1.8 0 1,0 -3.6,0 M488.67,357.29a1.8,1.8 0 1,0 3.6,0a1.8,1.8 0 1,0 -3.6,0 M489.75,357.47a1.8,1.8 0 1,0 3.6,0a1.8,1.8 0 1,0 -3.6,0 M490.84,357.26a1.8,1.8 0 1,0 3.6,0a1.8,1.8 0 1,0 -3.6,0 M491.92,356.90a1.8,1.8 0 1,0 3.6,0a1.8,1.8 0 1,0 -3.6,0 M493.00,357.66a1.8,1.8 0 1,0 3.6,0a1.8,1.8 0 1,0 -3.6,0 M494.09,357.79a1.8,1.8 0 1,0 3.6,0a1.8,1.8 0 1,0 -3.6,0 M495.17,356.83a1.8,1.8 0 1,0 3.6,0a1.8,1.8 0 1,0 -3.6,0 M496.25,357.45a1.8,1.8 0 1,0 3.6,0a1.8,1.8 0 1,0 -3.6,0 M497.34,357.19a1.8,1.8 0 1,0 3.6,0a1.8,1.8 0 1,0 -3.6,0 M498.42,357.23a1.8,1.8 0 1,0 3.6,0a1.8,1.8 0 1,0 -3.6,0 M499.50,357.95a1.8,1.8 0 1,0 3.6,0a1.8,1.8 0 1,0 -3.6,0 M500.58,356.66a1.8,1.8 0 1,0 3.6,0a1.8,1.8 0 1,0 -3.6,0 M501.67,356.90a1.8,1.8 0 1,0 3.6,0a1.8,1.8 0 1,0 -3.6,0 M502.75,357.48a1.8,1.8 0 1,0 3.6,0a1.8,1.8 0 1,0 -3.6,0 M503.83,357.27a1.8,1.8 0 1,0 3.6,0a1.8,1.8 0 1,0 -3.6,0 M504.92,357.49a1.8,1.8 0 1,0 3.6,0a1.8,1.8 0 1,0 -3.6,0 M506.00,357.86a1.8,1.8 0 1,0 3.6,0a1.8,1.8 0 1,0 -3.6,0" fill="#cdd2e8"/>
<text transform="translate(436.22,387.20) scale(0.8116,1)" font-size="10.00" font-weight="normal" font-style="normal" fill="#231f20" stroke="#231f20" stroke-width="0.12">Time (min)</text>
<text transform="translate(379.00,345.28) rotate(-90) scale(0.8195,1)" font-size="10.00" fill="#231f20" stroke="#231f20" stroke-width="0.12">Plasmin (nM)</text>
<text transform="translate(438.58,293.50) scale(0.9404,1)" font-size="8.50" font-weight="normal" font-style="normal" fill="#231f20" stroke="#231f20" stroke-width="0.12">Active PAI-1 (µg/mL)</text>
<line x1="476.2" y1="302" x2="484.2" y2="302" stroke="#b1123c" stroke-width="1.1" />
<circle cx="480.2" cy="302" r="2.1" fill="#b1123c"/>
<text transform="translate(486.64,305.12) scale(1.0000,1)" font-size="8.90" font-weight="normal" font-style="normal" fill="#231f20" stroke="#231f20" stroke-width="0.12">0</text>
<line x1="476.2" y1="309.9" x2="484.2" y2="309.9" stroke="#1f3f7d" stroke-width="1.1" />
<circle cx="480.2" cy="309.9" r="2.1" fill="#1f3f7d"/>
<text transform="translate(486.64,313.01) scale(1.0000,1)" font-size="8.90" font-weight="normal" font-style="normal" fill="#231f20" stroke="#231f20" stroke-width="0.12">0.2</text>
<line x1="476.2" y1="318.1" x2="484.2" y2="318.1" stroke="#4d68a3" stroke-width="1.1" />
<circle cx="480.2" cy="318.1" r="2.1" fill="#4d68a3"/>
<text transform="translate(486.64,321.22) scale(1.0000,1)" font-size="8.90" font-weight="normal" font-style="normal" fill="#231f20" stroke="#231f20" stroke-width="0.12">0.4</text>
<line x1="476.2" y1="326.3" x2="484.2" y2="326.3" stroke="#949fc9" stroke-width="1.1" />
<circle cx="480.2" cy="326.3" r="2.1" fill="#949fc9"/>
<text transform="translate(486.64,329.42) scale(1.0000,1)" font-size="8.90" font-weight="normal" font-style="normal" fill="#231f20" stroke="#231f20" stroke-width="0.12">0.8</text>
<line x1="476.2" y1="334.4" x2="484.2" y2="334.4" stroke="#cdd2e8" stroke-width="1.1" />
<circle cx="480.2" cy="334.4" r="2.1" fill="#cdd2e8"/>
<text transform="translate(486.33,337.51) scale(1.0000,1)" font-size="8.90" font-weight="normal" font-style="normal" fill="#231f20" stroke="#231f20" stroke-width="0.12">1.6</text>
<rect x="0" y="0" width="520" height="1" fill="#000"/>
<rect x="0" y="0" width="1" height="397" fill="#000"/>
<rect x="518.8" y="0" width="1.2" height="397" fill="#000"/>
<rect x="0" y="395.7" width="520" height="1.3" fill="#000"/>
</svg></body></html>
